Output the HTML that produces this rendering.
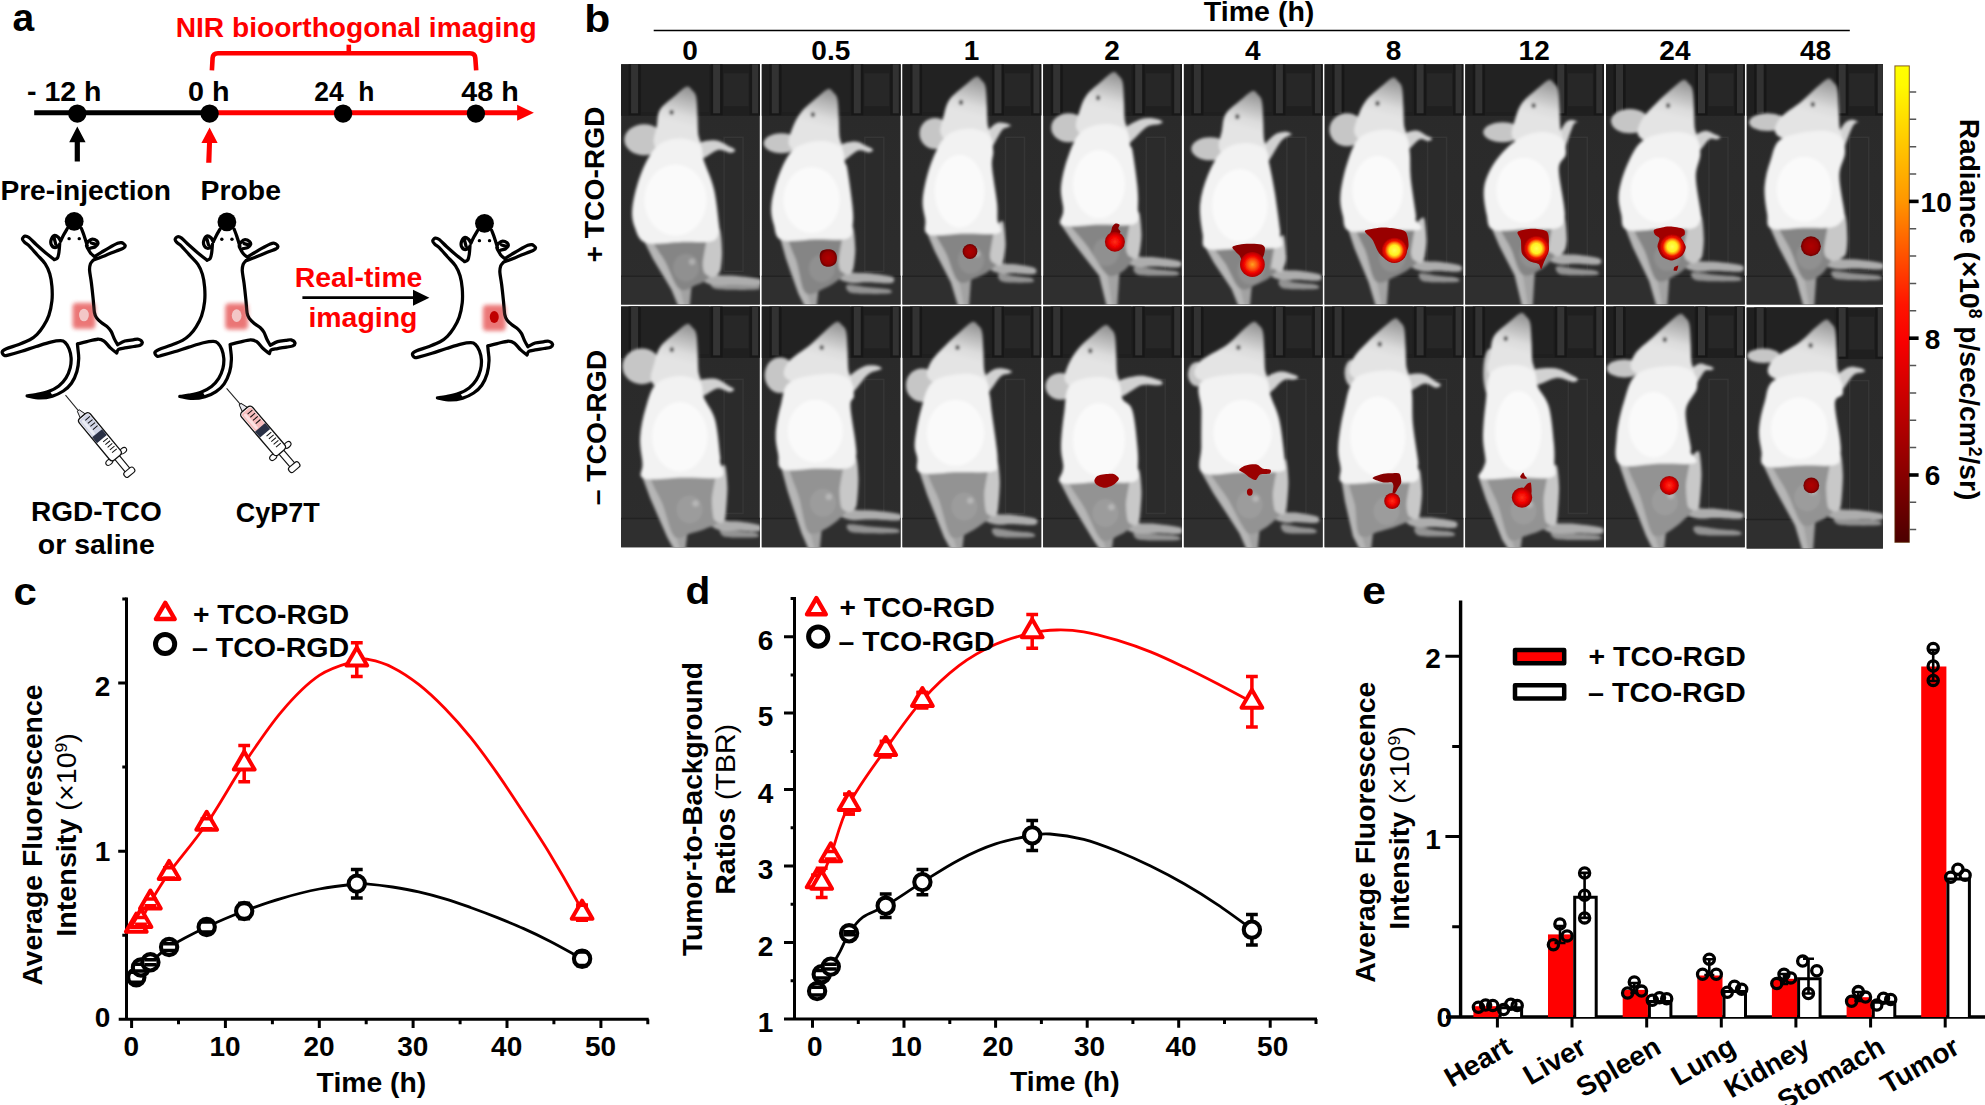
<!DOCTYPE html>
<html lang="en"><head><meta charset="utf-8"><title>Figure</title>
<style>
html,body{margin:0;padding:0;background:#fff;}
body{width:1985px;height:1105px;overflow:hidden;}
svg{display:block;font-family:"Liberation Sans",Arial,Helvetica,sans-serif;}
</style></head><body>
<svg width="1985" height="1105" viewBox="0 0 1985 1105">
<defs>
<filter id="pblur" x="-30%" y="-30%" width="160%" height="160%"><feGaussianBlur stdDeviation="11"/></filter>
<g id="mouse"><path d="M372.0,130.0 C368.7,135.8 358.2,153.3 352.0,165.0 C345.8,176.7 337.8,194.2 335.0,200.0 M335.0,200.0 C332.8,196.3 327.8,183.3 322.0,178.0 C316.2,172.7 306.7,165.2 300.0,168.0 C293.3,170.8 284.5,186.0 282.0,195.0 C279.5,204.0 281.2,215.2 285.0,222.0 C288.8,228.8 298.3,235.7 305.0,236.0 C311.7,236.3 320.8,227.5 325.0,224.0 C329.2,220.5 329.2,216.5 330.0,215.0 M330.0,215.0 C329.3,222.5 328.0,247.2 326.0,260.0 C324.0,272.8 322.3,285.0 318.0,292.0 C313.7,299.0 303.0,300.3 300.0,302.0 M300.0,302.0 C291.7,295.3 266.7,276.0 250.0,262.0 C233.3,248.0 215.0,231.7 200.0,218.0 C185.0,204.3 170.3,187.7 160.0,180.0 C149.7,172.3 144.0,170.7 138.0,172.0 C132.0,173.3 124.5,182.5 124.0,188.0 C123.5,193.5 129.0,198.8 135.0,205.0 C141.0,211.2 148.3,213.3 160.0,225.0 C171.7,236.7 190.0,258.3 205.0,275.0 C220.0,291.7 238.3,307.5 250.0,325.0 C261.7,342.5 268.8,359.2 275.0,380.0 C281.2,400.8 285.0,425.0 287.0,450.0 C289.0,475.0 289.8,503.3 287.0,530.0 C284.2,556.7 277.8,586.7 270.0,610.0 C262.2,633.3 250.8,652.5 240.0,670.0 C229.2,687.5 217.5,702.5 205.0,715.0 C192.5,727.5 182.5,735.5 165.0,745.0 C147.5,754.5 121.7,763.7 100.0,772.0 C78.3,780.3 49.7,788.3 35.0,795.0 C20.3,801.7 13.7,805.8 12.0,812.0 C10.3,818.2 18.7,829.3 25.0,832.0 C31.3,834.7 34.2,832.0 50.0,828.0 C65.8,824.0 95.0,815.7 120.0,808.0 C145.0,800.3 173.3,790.3 200.0,782.0 C226.7,773.7 257.5,763.3 280.0,758.0 C302.5,752.7 321.7,749.7 335.0,750.0 C348.3,750.3 352.2,752.5 360.0,760.0 C367.8,767.5 376.5,780.8 382.0,795.0 C387.5,809.2 392.0,827.5 393.0,845.0 C394.0,862.5 392.7,881.7 388.0,900.0 C383.3,918.3 375.5,938.3 365.0,955.0 C354.5,971.7 340.8,987.5 325.0,1000.0 C309.2,1012.5 290.8,1022.0 270.0,1030.0 C249.2,1038.0 220.0,1043.8 200.0,1048.0 C180.0,1052.2 158.3,1053.8 150.0,1055.0 M150.0,1055.0 C161.7,1056.8 196.7,1065.8 220.0,1066.0 C243.3,1066.2 268.3,1062.3 290.0,1056.0 C311.7,1049.7 332.5,1039.8 350.0,1028.0 C367.5,1016.2 382.5,1003.0 395.0,985.0 C407.5,967.0 418.3,942.5 425.0,920.0 C431.7,897.5 434.2,871.7 435.0,850.0 C435.8,828.3 431.2,803.7 430.0,790.0 C428.8,776.3 428.3,771.7 428.0,768.0 M428.0,768.0 C436.7,765.8 461.3,759.3 480.0,755.0 C498.7,750.7 524.2,742.5 540.0,742.0 C555.8,741.5 563.3,744.0 575.0,752.0 C586.7,760.0 598.3,779.0 610.0,790.0 C621.7,801.0 639.2,813.3 645.0,818.0 M645.0,818.0 C646.7,814.7 647.5,802.7 655.0,798.0 C662.5,793.3 675.8,792.7 690.0,790.0 C704.2,787.3 725.8,784.5 740.0,782.0 C754.2,779.5 767.3,779.0 775.0,775.0 C782.7,771.0 787.7,763.5 786.0,758.0 C784.3,752.5 773.5,744.2 765.0,742.0 C756.5,739.8 747.5,743.3 735.0,745.0 C722.5,746.7 704.2,747.5 690.0,752.0 C675.8,756.5 656.7,768.7 650.0,772.0 M650.0,772.0 C647.0,766.7 637.8,752.0 632.0,740.0 C626.2,728.0 621.2,710.8 615.0,700.0 C608.8,689.2 604.2,683.3 595.0,675.0 C585.8,666.7 570.0,658.3 560.0,650.0 C550.0,641.7 541.3,634.2 535.0,625.0 C528.7,615.8 525.3,612.5 522.0,595.0 C518.7,577.5 517.8,547.5 515.0,520.0 C512.2,492.5 508.3,456.7 505.0,430.0 C501.7,403.3 495.8,377.5 495.0,360.0 C494.2,342.5 496.7,334.2 500.0,325.0 C503.3,315.8 512.5,308.3 515.0,305.0 M515.0,305.0 C525.8,300.8 559.2,288.3 580.0,280.0 C600.8,271.7 623.3,261.7 640.0,255.0 C656.7,248.3 671.3,245.0 680.0,240.0 C688.7,235.0 693.3,230.3 692.0,225.0 C690.7,219.7 679.0,210.2 672.0,208.0 C665.0,205.8 662.0,207.0 650.0,212.0 C638.0,217.0 615.0,229.7 600.0,238.0 C585.0,246.3 573.0,254.2 560.0,262.0 C547.0,269.8 528.3,281.2 522.0,285.0 M522.0,285.0 C518.3,281.7 506.2,272.5 500.0,265.0 C493.8,257.5 487.5,244.2 485.0,240.0 M485.0,240.0 C483.8,237.0 477.2,228.7 478.0,222.0 C478.8,215.3 484.7,205.7 490.0,200.0 C495.3,194.3 502.5,188.3 510.0,188.0 C517.5,187.7 529.8,193.5 535.0,198.0 C540.2,202.5 542.7,209.3 541.0,215.0 C539.3,220.7 531.8,228.2 525.0,232.0 C518.2,235.8 504.2,237.0 500.0,238.0 M482.0,225.0 C479.2,215.8 470.3,185.8 465.0,170.0 C459.7,154.2 452.5,136.7 450.0,130.0 M300,185 L308,216 M505,210 L526,216" fill="none" stroke="#000" stroke-width="18" stroke-linecap="round" stroke-linejoin="round"/><path d="M150,1055 C190,1046 240,1040 275,1028 L292,1056 C250,1066 200,1066 150,1055Z" fill="#000"/><circle cx="410" cy="90" r="52" fill="#000"/><circle cx="382" cy="186" r="9.5" fill="#000"/><circle cx="438" cy="186" r="9.5" fill="#000"/></g>
<linearGradient id="cbar" x1="0" y1="0" x2="0" y2="1"><stop offset="0" stop-color="#ffff00"/><stop offset="0.04" stop-color="#fffa00"/><stop offset="0.28" stop-color="#ff9800"/><stop offset="0.5" stop-color="#ff1500"/><stop offset="0.58" stop-color="#f80000"/><stop offset="0.8" stop-color="#a00000"/><stop offset="1" stop-color="#4c0000"/></linearGradient>
<filter id="mblur" x="-5%" y="-5%" width="110%" height="110%"><feGaussianBlur stdDeviation="1.7"/></filter>
<filter id="hblur" x="-20%" y="-20%" width="140%" height="140%"><feGaussianBlur stdDeviation="0.7"/></filter>
<linearGradient id="bgv" x1="0" y1="0" x2="0" y2="1"><stop offset="0" stop-color="#262626"/><stop offset="0.2" stop-color="#2a2a2a"/><stop offset="1" stop-color="#2d2d2d"/></linearGradient>
<g id="pbg"><rect x="-2" y="-2" width="143" height="246" fill="url(#bgv)"/><rect x="-2" y="-2" width="143" height="53.5" fill="#1f1f1f"/><rect x="20" y="-2" width="68" height="50" fill="#222222"/><rect x="7.5" y="-2" width="12" height="53" fill="#171717"/><rect x="10" y="-2" width="7" height="51" fill="#323232"/><rect x="89.5" y="-2" width="12" height="53" fill="#171717"/><rect x="92" y="-2" width="7" height="51" fill="#343434"/><rect x="128.5" y="-2" width="11" height="53" fill="#181818"/><rect x="131" y="-2" width="6" height="51" fill="#323232"/><rect x="102.5" y="9" width="25" height="33" fill="#272727"/><rect x="103" y="73" width="19" height="134" fill="#2b2b2b" stroke="#363636" stroke-width="1.5"/><rect x="-2" y="212" width="143" height="32" fill="#2f2f2f"/><line x1="-2" y1="212" x2="141" y2="212" stroke="#222" stroke-width="1.5"/></g>
<clipPath id="cl00"><rect x="0" y="0" width="138.7" height="240.2"/></clipPath>
<linearGradient id="hg00" gradientUnits="userSpaceOnUse" x1="67.7" y1="22.3" x2="57.7" y2="60.3"><stop offset="0" stop-color="#8e8e8e"/><stop offset="0.35" stop-color="#b4b4b4"/><stop offset="0.75" stop-color="#dcdcdc"/><stop offset="1" stop-color="#e4e4e4"/></linearGradient>
<clipPath id="cl01"><rect x="0" y="0" width="138.7" height="240.2"/></clipPath>
<linearGradient id="hg01" gradientUnits="userSpaceOnUse" x1="68.3" y1="24.6" x2="58.3" y2="62.6"><stop offset="0" stop-color="#8e8e8e"/><stop offset="0.35" stop-color="#b4b4b4"/><stop offset="0.75" stop-color="#dcdcdc"/><stop offset="1" stop-color="#e4e4e4"/></linearGradient>
<clipPath id="cl02"><rect x="0" y="0" width="138.7" height="240.2"/></clipPath>
<linearGradient id="hg02" gradientUnits="userSpaceOnUse" x1="75.7" y1="12.4" x2="65.7" y2="50.4"><stop offset="0" stop-color="#8e8e8e"/><stop offset="0.35" stop-color="#b4b4b4"/><stop offset="0.75" stop-color="#dcdcdc"/><stop offset="1" stop-color="#e4e4e4"/></linearGradient>
<clipPath id="cl03"><rect x="0" y="0" width="138.7" height="240.2"/></clipPath>
<linearGradient id="hg03" gradientUnits="userSpaceOnUse" x1="72.1" y1="7.8" x2="62.1" y2="45.8"><stop offset="0" stop-color="#8e8e8e"/><stop offset="0.35" stop-color="#b4b4b4"/><stop offset="0.75" stop-color="#dcdcdc"/><stop offset="1" stop-color="#e4e4e4"/></linearGradient>
<clipPath id="cl04"><rect x="0" y="0" width="138.7" height="240.2"/></clipPath>
<linearGradient id="hg04" gradientUnits="userSpaceOnUse" x1="70.6" y1="26.7" x2="60.6" y2="64.7"><stop offset="0" stop-color="#8e8e8e"/><stop offset="0.35" stop-color="#b4b4b4"/><stop offset="0.75" stop-color="#dcdcdc"/><stop offset="1" stop-color="#e4e4e4"/></linearGradient>
<clipPath id="cl05"><rect x="0" y="0" width="138.7" height="240.2"/></clipPath>
<linearGradient id="hg05" gradientUnits="userSpaceOnUse" x1="70.1" y1="13.4" x2="60.1" y2="51.4"><stop offset="0" stop-color="#8e8e8e"/><stop offset="0.35" stop-color="#b4b4b4"/><stop offset="0.75" stop-color="#dcdcdc"/><stop offset="1" stop-color="#e4e4e4"/></linearGradient>
<clipPath id="cl06"><rect x="0" y="0" width="138.7" height="240.2"/></clipPath>
<linearGradient id="hg06" gradientUnits="userSpaceOnUse" x1="85.5" y1="15.6" x2="75.5" y2="53.6"><stop offset="0" stop-color="#8e8e8e"/><stop offset="0.35" stop-color="#b4b4b4"/><stop offset="0.75" stop-color="#dcdcdc"/><stop offset="1" stop-color="#e4e4e4"/></linearGradient>
<clipPath id="cl07"><rect x="0" y="0" width="138.7" height="240.2"/></clipPath>
<linearGradient id="hg07" gradientUnits="userSpaceOnUse" x1="79.3" y1="15.6" x2="69.3" y2="53.6"><stop offset="0" stop-color="#8e8e8e"/><stop offset="0.35" stop-color="#b4b4b4"/><stop offset="0.75" stop-color="#dcdcdc"/><stop offset="1" stop-color="#e4e4e4"/></linearGradient>
<clipPath id="cl08"><rect x="0" y="0" width="136.2" height="240.2"/></clipPath>
<linearGradient id="hg08" gradientUnits="userSpaceOnUse" x1="83.3" y1="14.4" x2="73.3" y2="52.4"><stop offset="0" stop-color="#8e8e8e"/><stop offset="0.35" stop-color="#b4b4b4"/><stop offset="0.75" stop-color="#dcdcdc"/><stop offset="1" stop-color="#e4e4e4"/></linearGradient>
<clipPath id="cl10"><rect x="0" y="0" width="138.7" height="240.8"/></clipPath>
<linearGradient id="hg10" gradientUnits="userSpaceOnUse" x1="67.9" y1="17.6" x2="57.9" y2="55.6"><stop offset="0" stop-color="#8e8e8e"/><stop offset="0.35" stop-color="#b4b4b4"/><stop offset="0.75" stop-color="#dcdcdc"/><stop offset="1" stop-color="#e4e4e4"/></linearGradient>
<clipPath id="cl11"><rect x="0" y="0" width="138.7" height="240.8"/></clipPath>
<linearGradient id="hg11" gradientUnits="userSpaceOnUse" x1="77.1" y1="15.4" x2="67.1" y2="53.4"><stop offset="0" stop-color="#8e8e8e"/><stop offset="0.35" stop-color="#b4b4b4"/><stop offset="0.75" stop-color="#dcdcdc"/><stop offset="1" stop-color="#e4e4e4"/></linearGradient>
<clipPath id="cl12"><rect x="0" y="0" width="138.7" height="240.8"/></clipPath>
<linearGradient id="hg12" gradientUnits="userSpaceOnUse" x1="72.2" y1="15.4" x2="62.2" y2="53.4"><stop offset="0" stop-color="#8e8e8e"/><stop offset="0.35" stop-color="#b4b4b4"/><stop offset="0.75" stop-color="#dcdcdc"/><stop offset="1" stop-color="#e4e4e4"/></linearGradient>
<clipPath id="cl13"><rect x="0" y="0" width="138.7" height="240.8"/></clipPath>
<linearGradient id="hg13" gradientUnits="userSpaceOnUse" x1="64.3" y1="18.7" x2="54.3" y2="56.7"><stop offset="0" stop-color="#8e8e8e"/><stop offset="0.35" stop-color="#b4b4b4"/><stop offset="0.75" stop-color="#dcdcdc"/><stop offset="1" stop-color="#e4e4e4"/></linearGradient>
<clipPath id="cl14"><rect x="0" y="0" width="138.7" height="240.8"/></clipPath>
<linearGradient id="hg14" gradientUnits="userSpaceOnUse" x1="71.7" y1="15.4" x2="61.7" y2="53.4"><stop offset="0" stop-color="#8e8e8e"/><stop offset="0.35" stop-color="#b4b4b4"/><stop offset="0.75" stop-color="#dcdcdc"/><stop offset="1" stop-color="#e4e4e4"/></linearGradient>
<clipPath id="cl15"><rect x="0" y="0" width="138.7" height="240.8"/></clipPath>
<linearGradient id="hg15" gradientUnits="userSpaceOnUse" x1="72.3" y1="12.1" x2="62.3" y2="50.1"><stop offset="0" stop-color="#8e8e8e"/><stop offset="0.35" stop-color="#b4b4b4"/><stop offset="0.75" stop-color="#dcdcdc"/><stop offset="1" stop-color="#e4e4e4"/></linearGradient>
<clipPath id="cl16"><rect x="0" y="0" width="138.7" height="240.8"/></clipPath>
<linearGradient id="hg16" gradientUnits="userSpaceOnUse" x1="57.6" y1="6.5" x2="47.6" y2="44.5"><stop offset="0" stop-color="#8e8e8e"/><stop offset="0.35" stop-color="#b4b4b4"/><stop offset="0.75" stop-color="#dcdcdc"/><stop offset="1" stop-color="#e4e4e4"/></linearGradient>
<clipPath id="cl17"><rect x="0" y="0" width="138.7" height="240.8"/></clipPath>
<linearGradient id="hg17" gradientUnits="userSpaceOnUse" x1="76.0" y1="7.6" x2="66.0" y2="45.6"><stop offset="0" stop-color="#8e8e8e"/><stop offset="0.35" stop-color="#b4b4b4"/><stop offset="0.75" stop-color="#dcdcdc"/><stop offset="1" stop-color="#e4e4e4"/></linearGradient>
<clipPath id="cl18"><rect x="0" y="0" width="136.2" height="240.8"/></clipPath>
<linearGradient id="hg18" gradientUnits="userSpaceOnUse" x1="81.1" y1="12.1" x2="71.1" y2="50.1"><stop offset="0" stop-color="#8e8e8e"/><stop offset="0.35" stop-color="#b4b4b4"/><stop offset="0.75" stop-color="#dcdcdc"/><stop offset="1" stop-color="#e4e4e4"/></linearGradient>
<radialGradient id="hDark"><stop offset="0" stop-color="#b00000"/><stop offset="0.7" stop-color="#9a0000"/><stop offset="1" stop-color="#6e0000"/></radialGradient>
<radialGradient id="hRed"><stop offset="0" stop-color="#ff3018"/><stop offset="0.55" stop-color="#f00000"/><stop offset="1" stop-color="#a00000"/></radialGradient>
<radialGradient id="hOr"><stop offset="0" stop-color="#ffa020"/><stop offset="0.35" stop-color="#ff5a10"/><stop offset="0.7" stop-color="#f00000"/><stop offset="1" stop-color="#b00000"/></radialGradient>
<radialGradient id="hYel"><stop offset="0" stop-color="#ffff55"/><stop offset="0.4" stop-color="#fff020"/><stop offset="0.56" stop-color="#ff9a10"/><stop offset="0.76" stop-color="#f01000"/><stop offset="1" stop-color="#b00000"/></radialGradient>
</defs>
<rect width="1985" height="1105" fill="#fff"/>
<text x="12.6" y="31.4" font-size="38" font-weight="bold" fill="#000" textLength="21.7" lengthAdjust="spacingAndGlyphs">a</text>
<text x="175.7" y="37.0" font-size="28.2" font-weight="bold" fill="#ff0000" textLength="361.0" lengthAdjust="spacingAndGlyphs">NIR bioorthogonal imaging</text>
<path d="M211.9,70.3 L212.6,58 Q213,53.2 218,53.2 L470,53.2 Q475,53.2 475.3,58 L476.2,70.3" fill="none" stroke="#ff0000" stroke-width="4.6"/>
<path d="M348.8,44.7 L348.8,53.2" fill="none" stroke="#ff0000" stroke-width="4.6"/>
<line x1="34.2" y1="112.7" x2="209.6" y2="112.7" stroke="#000" stroke-width="5"/>
<line x1="209.6" y1="112.7" x2="519" y2="112.7" stroke="#ff0000" stroke-width="5"/>
<polygon points="517.1,104.7 533.9,112.7 517.1,120.7" fill="#ff0000"/>
<circle cx="77.3" cy="113.6" r="9.2" fill="#000"/>
<circle cx="209.6" cy="113.6" r="9.2" fill="#000"/>
<circle cx="343.1" cy="113.6" r="9.2" fill="#000"/>
<circle cx="475.9" cy="113.6" r="9.2" fill="#000"/>
<text x="27.0" y="101.0" font-size="28.2" font-weight="bold" fill="#000" textLength="74.5" lengthAdjust="spacingAndGlyphs">- 12 h</text>
<text x="188.0" y="101.0" font-size="28.2" font-weight="bold" fill="#000" textLength="41.5" lengthAdjust="spacingAndGlyphs">0 h</text>
<text x="314.2" y="101.0" font-size="28.2" font-weight="bold" fill="#000" textLength="60.3" lengthAdjust="spacingAndGlyphs" xml:space="preserve">24  h</text>
<text x="461.3" y="101.0" font-size="28.2" font-weight="bold" fill="#000" textLength="57.4" lengthAdjust="spacingAndGlyphs">48 h</text>
<path d="M77.3,126.5 L85.6,142.3 L79.9,142.3 L79.9,161.5 L74.7,161.5 L74.7,142.3 L69.2,142.3 Z" fill="#000"/>
<path d="M209.6,127.5 L217.6,143 L212,143 L211.4,162.8 L206.2,162.8 L207,143 L201.4,143 Z" fill="#ff0000"/>
<text x="0.4" y="199.7" font-size="28.2" font-weight="bold" fill="#000" textLength="170.5" lengthAdjust="spacingAndGlyphs">Pre-injection</text>
<text x="200.6" y="199.7" font-size="28.2" font-weight="bold" fill="#000" textLength="80.3" lengthAdjust="spacingAndGlyphs">Probe</text>
<text x="294.7" y="286.5" font-size="28.2" font-weight="bold" fill="#ff0000" textLength="127.7" lengthAdjust="spacingAndGlyphs">Real-time</text>
<text x="308.4" y="326.9" font-size="28.2" font-weight="bold" fill="#ff0000" textLength="109.0" lengthAdjust="spacingAndGlyphs">imaging</text>
<line x1="302.4" y1="297.7" x2="415" y2="297.7" stroke="#000" stroke-width="2.7"/>
<polygon points="413,289.7 429.4,297.7 413,305.7" fill="#000"/>
<text x="31.0" y="520.6" font-size="28.2" font-weight="bold" fill="#000" textLength="130.7" lengthAdjust="spacingAndGlyphs">RGD-TCO</text>
<text x="37.8" y="554.1" font-size="28.2" font-weight="bold" fill="#000" textLength="117.0" lengthAdjust="spacingAndGlyphs">or saline</text>
<text x="235.8" y="521.6" font-size="28.2" font-weight="bold" fill="#000" textLength="84.0" lengthAdjust="spacingAndGlyphs">CyP7T</text>
<g transform="translate(0,205) scale(0.18093)"><rect x="403" y="543" width="122" height="140" rx="16" fill="#e96c6c" opacity="0.95" filter="url(#pblur)"/><use href="#mouse"/><rect x="408" y="548" width="112" height="130" rx="16" fill="#ec7c7c" opacity="0.35" filter="url(#pblur)"/><ellipse cx="464" cy="608" rx="27" ry="35" fill="#f3c6c6"/></g>
<g transform="translate(152.7,205.6) scale(0.18093)"><rect x="403" y="543" width="122" height="140" rx="16" fill="#e96c6c" opacity="0.95" filter="url(#pblur)"/><use href="#mouse"/><rect x="408" y="548" width="112" height="130" rx="16" fill="#ec7c7c" opacity="0.35" filter="url(#pblur)"/><ellipse cx="464" cy="608" rx="27" ry="35" fill="#f3c6c6"/></g>
<g transform="translate(410.3,207.0) scale(0.18093)"><rect x="403" y="543" width="122" height="140" rx="16" fill="#e96c6c" opacity="0.95" filter="url(#pblur)"/><use href="#mouse"/><rect x="408" y="548" width="112" height="130" rx="16" fill="#ec7c7c" opacity="0.35" filter="url(#pblur)"/><ellipse cx="464" cy="608" rx="25" ry="33" fill="#c00000"/></g>
<g transform="translate(65.5,395.1) rotate(50.4) scale(1.001)" stroke-linejoin="round"><line x1="0" y1="0" x2="23" y2="0" stroke="#222" stroke-width="1"/><path d="M20,-1.2 L27,-3.2 L27,3.2 L20,1.2Z" fill="#e8e8ee" stroke="#111" stroke-width="0.9"/><rect x="80" y="-3" width="19" height="6" fill="#fff" stroke="#111" stroke-width="1.1"/><rect x="97" y="-6" width="6" height="12" rx="2.5" fill="#fff" stroke="#111" stroke-width="1.1"/><ellipse cx="79.5" cy="-9" rx="2.6" ry="3.8" fill="#fff" stroke="#111" stroke-width="1.1"/><ellipse cx="79.5" cy="9" rx="2.6" ry="3.8" fill="#fff" stroke="#111" stroke-width="1.1"/><rect x="27" y="-7.1" width="54" height="14.2" rx="3.4" fill="#fff" stroke="#111" stroke-width="1.3"/><rect x="28.2" y="-6" width="23" height="12" rx="2.8" fill="#d0d4e6"/><rect x="30" y="1.5" width="19" height="3" rx="1.5" fill="#fff" opacity="0.55"/><rect x="49.5" y="-6.4" width="7.5" height="12.8" fill="#2a3146"/><line x1="32" y1="-5.2" x2="32" y2="0.8" stroke="#111" stroke-width="1"/><line x1="36" y1="-5.2" x2="36" y2="0.8" stroke="#111" stroke-width="1"/><line x1="40" y1="-5.2" x2="40" y2="0.8" stroke="#111" stroke-width="1"/><line x1="44" y1="-5.2" x2="44" y2="0.8" stroke="#111" stroke-width="1"/><line x1="60" y1="-5.2" x2="60" y2="0.8" stroke="#111" stroke-width="1"/><line x1="63.5" y1="-5.2" x2="63.5" y2="0.8" stroke="#111" stroke-width="1"/><line x1="67" y1="-5.2" x2="67" y2="0.8" stroke="#111" stroke-width="1"/><line x1="70.5" y1="-5.2" x2="70.5" y2="0.8" stroke="#111" stroke-width="1"/><line x1="74" y1="-5.2" x2="74" y2="0.8" stroke="#111" stroke-width="1"/></g>
<g transform="translate(226.6,388.3) rotate(49.4) scale(1.039)" stroke-linejoin="round"><line x1="0" y1="0" x2="23" y2="0" stroke="#222" stroke-width="1"/><path d="M20,-1.2 L27,-3.2 L27,3.2 L20,1.2Z" fill="#e8e8ee" stroke="#111" stroke-width="0.9"/><rect x="80" y="-3" width="19" height="6" fill="#fff" stroke="#111" stroke-width="1.1"/><rect x="97" y="-6" width="6" height="12" rx="2.5" fill="#fff" stroke="#111" stroke-width="1.1"/><ellipse cx="79.5" cy="-9" rx="2.6" ry="3.8" fill="#fff" stroke="#111" stroke-width="1.1"/><ellipse cx="79.5" cy="9" rx="2.6" ry="3.8" fill="#fff" stroke="#111" stroke-width="1.1"/><rect x="27" y="-7.1" width="54" height="14.2" rx="3.4" fill="#fff" stroke="#111" stroke-width="1.3"/><rect x="28.2" y="-6" width="23" height="12" rx="2.8" fill="#f7bcbc"/><rect x="30" y="1.5" width="19" height="3" rx="1.5" fill="#fff" opacity="0.55"/><rect x="49.5" y="-6.4" width="7.5" height="12.8" fill="#2a3146"/><line x1="32" y1="-5.2" x2="32" y2="0.8" stroke="#111" stroke-width="1"/><line x1="36" y1="-5.2" x2="36" y2="0.8" stroke="#111" stroke-width="1"/><line x1="40" y1="-5.2" x2="40" y2="0.8" stroke="#111" stroke-width="1"/><line x1="44" y1="-5.2" x2="44" y2="0.8" stroke="#111" stroke-width="1"/><line x1="60" y1="-5.2" x2="60" y2="0.8" stroke="#111" stroke-width="1"/><line x1="63.5" y1="-5.2" x2="63.5" y2="0.8" stroke="#111" stroke-width="1"/><line x1="67" y1="-5.2" x2="67" y2="0.8" stroke="#111" stroke-width="1"/><line x1="70.5" y1="-5.2" x2="70.5" y2="0.8" stroke="#111" stroke-width="1"/><line x1="74" y1="-5.2" x2="74" y2="0.8" stroke="#111" stroke-width="1"/></g>
<text x="584.3" y="31.7" font-size="38" font-weight="bold" fill="#000" textLength="26.0" lengthAdjust="spacingAndGlyphs">b</text>
<text x="1203.8" y="21.0" font-size="28" font-weight="bold" fill="#000" textLength="110.6" lengthAdjust="spacingAndGlyphs">Time (h)</text>
<line x1="653.7" y1="30.5" x2="1849.8" y2="30.5" stroke="#000" stroke-width="1.4"/>
<text x="690.1" y="59.9" font-size="28" font-weight="bold" fill="#000" text-anchor="middle">0</text>
<text x="830.8" y="59.9" font-size="28" font-weight="bold" fill="#000" text-anchor="middle">0.5</text>
<text x="971.5" y="59.9" font-size="28" font-weight="bold" fill="#000" text-anchor="middle">1</text>
<text x="1112.1" y="59.9" font-size="28" font-weight="bold" fill="#000" text-anchor="middle">2</text>
<text x="1252.8" y="59.9" font-size="28" font-weight="bold" fill="#000" text-anchor="middle">4</text>
<text x="1393.5" y="59.9" font-size="28" font-weight="bold" fill="#000" text-anchor="middle">8</text>
<text x="1534.2" y="59.9" font-size="28" font-weight="bold" fill="#000" text-anchor="middle">12</text>
<text x="1674.9" y="59.9" font-size="28" font-weight="bold" fill="#000" text-anchor="middle">24</text>
<text x="1815.6" y="59.9" font-size="28" font-weight="bold" fill="#000" text-anchor="middle">48</text>
<text x="604.4" y="262.5" font-size="28" font-weight="bold" fill="#000" textLength="156.0" lengthAdjust="spacingAndGlyphs" transform="rotate(-90 604.4 262.5)">+ TCO-RGD</text>
<text x="606.5" y="505.3" font-size="28" font-weight="bold" fill="#000" textLength="155.5" lengthAdjust="spacingAndGlyphs" transform="rotate(-90 606.5 505.3)">– TCO-RGD</text>
<rect x="1894.9" y="65.9" width="14.4" height="476.4" fill="url(#cbar)" stroke="#5a2a00" stroke-opacity="0.75" stroke-width="1"/>
<path d="M1909.6,92.0 L1916.2,92.0 M1909.6,119.3 L1916.2,119.3 M1909.6,146.7 L1916.2,146.7 M1909.6,174.1 L1916.2,174.1 M1909.6,228.8 L1916.2,228.8 M1909.6,256.1 L1916.2,256.1 M1909.6,283.5 L1916.2,283.5 M1909.6,310.8 L1916.2,310.8 M1909.6,365.5 L1916.2,365.5 M1909.6,392.9 L1916.2,392.9 M1909.6,420.2 L1916.2,420.2 M1909.6,447.6 L1916.2,447.6 M1909.6,502.2 L1916.2,502.2 M1909.6,529.6 L1916.2,529.6 " stroke="#555" stroke-width="1.5" fill="none"/>
<line x1="1909" y1="201.4" x2="1918.6" y2="201.4" stroke="#000" stroke-width="3.6"/>
<text x="1920.6" y="211.7" font-size="28" font-weight="bold" fill="#000">10</text>
<line x1="1909" y1="338.2" x2="1918.6" y2="338.2" stroke="#000" stroke-width="3.6"/>
<text x="1924.8" y="348.5" font-size="28" font-weight="bold" fill="#000">8</text>
<line x1="1909" y1="475.0" x2="1918.6" y2="475.0" stroke="#000" stroke-width="3.6"/>
<text x="1924.8" y="485.3" font-size="28" font-weight="bold" fill="#000">6</text>
<text x="1959.6" y="118.7" font-size="28" font-weight="bold" fill="#000" textLength="381.6" lengthAdjust="spacingAndGlyphs" transform="rotate(90 1959.6 118.7)">Radiance (×10<tspan font-size="17.5" dy="-9.5">8</tspan><tspan dy="9.5"> p/sec/cm</tspan><tspan font-size="17.5" dy="-9.5">2</tspan><tspan dy="9.5">/sr)</tspan></text>
<g transform="translate(621.1,64.3)" clip-path="url(#cl00)"><use href="#pbg"/><g filter="url(#mblur)"><path d="M56.9,215.5 L70.9,217.5 L68.2,246.0 L58.8,246.0Z" fill="#a2a2a2"/><path d="M90.7,216.5 C94.2,215.7 106.3,218.2 113.8,219.0 C121.4,219.8 132.1,220.0 136.0,221.0 C139.9,222.0 141.2,224.2 137.0,225.0 C132.8,225.8 118.2,225.7 110.8,225.5 C103.5,225.3 96.1,225.5 92.7,224.0 C89.3,222.5 87.2,217.3 90.7,216.5Z" fill="#939393"/><path d="M84.7,204.0 C86.9,203.1 89.8,209.2 94.7,210.5 C99.6,211.8 106.5,210.8 113.8,211.5 C121.2,212.2 134.6,213.5 139.0,215.0 C143.4,216.5 141.5,219.4 140.5,220.5 C139.5,221.6 137.8,221.5 133.0,221.5 C128.2,221.5 118.4,220.6 111.8,220.5 C105.3,220.4 98.7,221.8 93.7,221.0 C88.7,220.2 83.2,218.8 81.7,216.0 C80.2,213.2 82.5,204.9 84.7,204.0Z" fill="#adadad"/><path d="M13.8,161.4 L23.8,178.4 L31.9,194.6 L41.0,209.8 L50.4,225.5 L58.8,246.0 L64.4,246.0 L57.9,221.5 L49.5,205.8 L41.4,190.6 L33.3,175.4Z" fill="#b6b6b6"/><path d="M32.3,174.4 C34.7,170.3 50.1,173.6 59.0,173.6 C67.9,173.6 80.2,172.8 85.7,174.4 C91.2,176.0 90.4,180.2 91.7,183.4 C93.0,186.6 94.0,189.0 93.7,193.4 C93.4,197.8 91.6,205.9 89.7,210.0 C87.8,214.1 84.8,215.8 82.0,217.8 C79.3,219.7 76.5,220.1 73.4,221.5 C70.3,222.9 66.4,226.0 63.4,226.0 C60.4,226.0 58.5,226.1 55.4,221.5 C52.3,216.9 48.4,206.3 44.6,198.4 C40.7,190.6 29.9,178.5 32.3,174.4Z" fill="#858585"/><ellipse cx="65.0" cy="203.4" rx="13" ry="14" fill="#fff" opacity="0.09"/><circle cx="71.0" cy="197.4" r="3.2" fill="#fff" opacity="0.28"/><path d="M86.7,171.4 C88.3,169.7 96.8,163.5 98.5,165.4 C100.2,167.3 100.9,182.5 101.0,187.4 C101.1,192.3 100.1,204.0 99.0,207.0 C97.9,210.0 93.5,212.8 91.7,213.0 C89.9,213.2 84.9,210.6 83.7,209.0 C82.5,207.4 81.6,202.7 81.7,199.4 C81.8,196.1 84.1,183.7 84.7,180.4 C85.3,177.1 85.1,173.2 86.7,171.4Z" fill="#c8c8c8"/><ellipse cx="23.1" cy="75.5" rx="19.9" ry="15.5" fill="#c6c6c6"/><path d="M75.7,80.3 C78.2,77.3 89.1,75.8 94.7,76.1 C100.2,76.5 105.7,80.9 108.9,82.5 C112.1,84.1 114.0,85.0 114.1,86.0 C114.2,87.0 112.2,88.6 109.3,88.5 C106.4,88.4 101.7,84.7 96.8,85.6 C91.8,86.6 83.2,95.2 79.7,94.3 C76.2,93.4 73.2,83.3 75.7,80.3Z" fill="#d2d2d2"/><path d="M65.7,22.3 C68.5,21.5 69.7,24.4 71.2,26.1 C72.8,27.8 74.1,28.1 75.0,32.3 C75.9,36.5 76.1,45.1 76.4,51.3 C76.7,57.5 76.6,63.8 77.0,69.3 C77.4,74.8 81.9,80.5 79.0,84.3 C76.1,88.1 66.2,91.6 59.7,92.3 C53.2,93.0 44.2,90.6 39.7,88.3 C35.2,86.0 33.4,82.6 32.7,78.3 C32.0,74.0 34.7,67.8 35.7,62.3 C36.7,56.8 35.8,50.6 38.9,45.4 C42.0,40.2 50.0,34.8 54.5,30.9 C59.0,27.0 62.9,23.1 65.7,22.3Z" fill="url(#hg00)"/><path d="M35.7,82.3 C29.4,88.2 23.9,99.5 19.8,109.6 C15.8,119.7 12.3,134.0 11.3,143.0 C10.3,152.0 11.6,157.5 13.8,163.4 C16.1,169.3 17.3,176.0 24.8,178.4 C32.3,180.8 48.0,177.8 59.0,177.6 C70.0,177.3 84.2,178.6 90.7,176.9 C97.2,175.2 96.8,170.0 98.0,167.4 C99.2,164.8 98.8,168.4 98.0,161.4 C97.2,154.4 95.5,136.2 93.0,125.4 C90.5,114.6 85.2,103.8 82.7,96.3 C80.2,88.8 82.4,84.0 78.2,80.3 C74.0,76.6 64.8,74.0 57.7,74.3 C50.6,74.6 42.0,76.4 35.7,82.3Z" fill="#f2f2f2"/><ellipse cx="54.4" cy="135.8" rx="31.1" ry="35.5" fill="#fafafa"/><ellipse cx="50.5" cy="48.0" rx="2.2" ry="2.6" fill="#4a4a4a"/></g></g>
<g transform="translate(761.8,64.3)" clip-path="url(#cl01)"><use href="#pbg"/><g filter="url(#mblur)"><path d="M43.1,219.5 L57.1,221.5 L54.4,246.0 L45.0,246.0Z" fill="#a2a2a2"/><path d="M85.8,220.5 C89.0,219.7 100.0,222.2 106.8,223.0 C113.6,223.8 123.3,224.0 126.8,225.0 C130.3,226.0 131.6,228.2 127.8,229.0 C124.0,229.8 110.5,229.7 103.8,229.5 C97.1,229.3 90.8,229.5 87.8,228.0 C84.8,226.5 82.6,221.3 85.8,220.5Z" fill="#939393"/><path d="M79.8,201.4 C82.0,200.5 85.3,206.7 89.8,207.9 C94.3,209.2 100.1,208.2 106.8,208.9 C113.5,209.7 125.7,210.9 129.8,212.4 C133.9,213.9 132.3,216.8 131.3,217.9 C130.3,219.0 128.2,218.9 123.8,218.9 C119.4,218.9 110.6,218.0 104.8,217.9 C99.0,217.8 93.5,219.2 88.8,218.4 C84.1,217.7 78.3,216.2 76.8,213.4 C75.3,210.6 77.6,202.3 79.8,201.4Z" fill="#adadad"/><path d="M12.1,158.7 L18.9,175.7 L24.1,194.1 L30.2,211.5 L36.6,229.5 L45.0,246.0 L50.6,246.0 L44.1,225.5 L38.8,207.5 L33.6,190.1 L28.4,172.7Z" fill="#b6b6b6"/><path d="M27.4,171.7 C30.5,167.0 45.2,170.9 54.1,170.9 C63.0,170.9 75.3,170.1 80.8,171.7 C86.2,173.3 85.5,177.5 86.8,180.7 C88.1,183.9 89.1,186.2 88.8,190.7 C88.5,195.1 87.5,202.8 84.8,207.4 C82.1,212.0 76.9,215.4 72.7,218.4 C68.5,221.5 63.5,223.6 59.6,225.5 C55.8,227.4 52.6,230.0 49.6,230.0 C46.6,230.0 44.0,230.7 41.6,225.5 C39.2,220.3 37.6,208.1 35.2,199.1 C32.9,190.1 24.3,176.4 27.4,171.7Z" fill="#858585"/><ellipse cx="60.1" cy="204.1" rx="13" ry="14" fill="#fff" opacity="0.09"/><circle cx="66.1" cy="198.1" r="3.2" fill="#fff" opacity="0.28"/><path d="M81.8,168.7 C83.1,166.9 89.6,160.8 91.0,162.7 C92.4,164.6 93.4,179.8 93.5,184.7 C93.6,189.6 92.3,201.4 91.5,204.4 C90.7,207.4 88.3,210.2 86.8,210.4 C85.3,210.6 80.0,208.0 78.8,206.4 C77.6,204.8 76.7,200.0 76.8,196.7 C76.9,193.4 79.2,181.0 79.8,177.7 C80.4,174.4 80.5,170.4 81.8,168.7Z" fill="#c8c8c8"/><ellipse cx="19.6" cy="79.0" rx="17.7" ry="10.0" fill="#c6c6c6"/><path d="M76.3,82.6 C78.4,79.4 88.0,77.2 93.0,77.2 C97.9,77.1 102.8,80.9 105.8,82.3 C108.9,83.7 111.1,84.7 111.3,85.7 C111.5,86.7 109.3,88.0 106.8,88.1 C104.2,88.2 100.3,85.0 95.9,86.4 C91.5,87.8 83.6,97.2 80.3,96.6 C77.0,96.0 74.2,85.8 76.3,82.6Z" fill="#d2d2d2"/><path d="M66.3,24.6 C69.1,23.8 70.2,26.7 71.8,28.4 C73.3,30.1 74.7,30.4 75.6,34.6 C76.5,38.8 76.7,47.4 77.0,53.6 C77.3,59.8 77.2,66.1 77.6,71.6 C78.0,77.1 82.5,82.8 79.6,86.6 C76.7,90.4 66.8,93.9 60.3,94.6 C53.8,95.3 45.8,92.9 40.3,90.6 C34.8,88.3 29.0,84.9 27.3,80.6 C25.6,76.3 28.3,70.1 30.3,64.6 C32.3,59.1 35.4,52.9 39.5,47.7 C43.6,42.5 50.6,37.1 55.1,33.2 C59.6,29.4 63.5,25.4 66.3,24.6Z" fill="url(#hg01)"/><path d="M32.3,84.6 C25.5,90.1 21.3,100.4 17.5,109.7 C13.8,119.0 10.5,131.9 9.6,140.4 C8.7,148.9 10.4,154.8 12.1,160.7 C13.8,166.6 12.9,173.3 19.9,175.7 C26.9,178.1 43.1,175.1 54.1,174.9 C65.1,174.6 79.6,176.8 85.8,174.2 C92.0,171.6 90.2,165.2 91.0,159.6 C91.8,153.9 91.4,149.6 90.5,140.4 C89.6,131.2 86.7,111.4 85.5,104.4 C84.3,97.4 84.4,102.2 83.3,98.6 C82.2,95.0 83.0,86.3 78.8,82.6 C74.6,78.9 66.0,76.3 58.3,76.6 C50.5,76.9 39.1,79.1 32.3,84.6Z" fill="#f2f2f2"/><ellipse cx="49.8" cy="135.6" rx="28.2" ry="33.0" fill="#fafafa"/><ellipse cx="51.1" cy="50.3" rx="2.2" ry="2.6" fill="#4a4a4a"/></g></g>
<g transform="translate(902.5,64.3)" clip-path="url(#cl02)"><use href="#pbg"/><g filter="url(#mblur)"><path d="M54.9,208.3 L68.9,210.3 L66.2,246.0 L56.8,246.0Z" fill="#a2a2a2"/><path d="M96.5,209.3 C98.9,208.5 107.7,211.1 113.0,211.8 C118.4,212.6 125.8,212.8 128.6,213.8 C131.4,214.8 132.7,217.1 129.6,217.8 C126.5,218.6 115.2,218.5 110.0,218.3 C104.9,218.1 100.8,218.3 98.5,216.8 C96.2,215.3 94.1,210.1 96.5,209.3Z" fill="#939393"/><path d="M90.5,192.5 C92.7,191.6 96.7,197.8 100.5,199.0 C104.3,200.2 107.9,199.2 113.0,200.0 C118.2,200.8 128.3,202.0 131.6,203.5 C134.9,205.0 134.1,207.9 133.1,209.0 C132.1,210.1 129.3,210.0 125.6,210.0 C121.9,210.0 115.4,209.1 111.0,209.0 C106.7,208.9 103.4,210.2 99.5,209.5 C95.6,208.8 89.0,207.3 87.5,204.5 C86.0,201.7 88.3,193.4 90.5,192.5Z" fill="#adadad"/><path d="M22.8,153.1 L25.1,170.1 L32.1,186.7 L40.1,202.3 L48.4,218.3 L56.8,246.0 L62.4,246.0 L55.9,214.3 L48.7,198.3 L41.6,182.7 L34.6,167.1Z" fill="#b6b6b6"/><path d="M33.6,166.1 C36.6,161.9 52.9,165.3 62.5,165.3 C72.2,165.3 85.7,164.5 91.5,166.1 C97.3,167.7 96.2,171.9 97.5,175.1 C98.8,178.3 99.8,181.2 99.5,185.1 C99.2,189.0 98.1,194.6 95.5,198.5 C92.9,202.4 88.0,205.8 84.0,208.4 C79.9,211.0 75.2,212.6 71.4,214.3 C67.6,216.0 64.4,218.8 61.4,218.8 C58.4,218.8 56.3,219.0 53.4,214.3 C50.5,209.6 47.5,198.7 44.2,190.7 C41.0,182.7 30.6,170.3 33.6,166.1Z" fill="#858585"/><ellipse cx="68.5" cy="195.7" rx="13" ry="14" fill="#fff" opacity="0.09"/><circle cx="74.5" cy="189.7" r="3.2" fill="#fff" opacity="0.28"/><path d="M92.5,163.1 C93.7,161.3 99.3,155.2 100.5,157.1 C101.7,159.0 102.9,174.6 103.0,179.1 C103.1,183.6 101.6,192.9 101.0,195.5 C100.4,198.1 98.8,201.3 97.5,201.5 C96.2,201.7 90.7,198.7 89.5,197.5 C88.3,196.3 87.4,194.1 87.5,191.1 C87.6,188.1 89.9,175.4 90.5,172.1 C91.1,168.8 91.3,164.8 92.5,163.1Z" fill="#c8c8c8"/><ellipse cx="32.5" cy="69.2" rx="15.5" ry="15.6" fill="#c6c6c6"/><path d="M83.7,70.4 C84.6,66.3 90.0,61.5 93.0,59.5 C96.1,57.6 99.4,58.4 102.0,58.7 C104.5,59.0 108.0,60.6 108.5,61.3 C109.0,62.0 106.6,62.1 105.0,62.9 C103.5,63.8 102.0,62.8 99.1,66.4 C96.2,70.0 90.3,83.7 87.7,84.4 C85.1,85.1 82.8,74.5 83.7,70.4Z" fill="#d2d2d2"/><path d="M73.7,12.4 C76.5,11.6 77.7,14.5 79.2,16.2 C80.8,17.9 82.1,18.2 83.0,22.4 C83.9,26.6 84.1,35.2 84.4,41.4 C84.7,47.6 84.6,53.9 85.0,59.4 C85.4,64.9 89.9,70.6 87.0,74.4 C84.1,78.2 74.2,81.7 67.7,82.4 C61.2,83.1 52.7,80.7 47.7,78.4 C42.8,76.1 39.1,72.7 38.0,68.4 C36.9,64.1 39.5,57.9 41.0,52.4 C42.5,46.9 43.3,40.7 46.9,35.5 C50.5,30.3 58.0,24.9 62.5,21.0 C67.0,17.1 70.9,13.2 73.7,12.4Z" fill="url(#hg02)"/><path d="M43.0,72.4 C36.8,78.3 32.0,89.8 28.2,100.0 C24.5,110.2 21.2,124.5 20.3,133.7 C19.4,142.9 21.8,149.0 22.8,155.1 C23.8,161.2 19.5,167.7 26.1,170.1 C32.7,172.5 50.8,169.5 62.5,169.3 C74.3,169.0 91.1,170.9 96.5,168.6 C101.9,166.3 95.3,160.7 95.0,155.6 C94.7,150.6 95.4,147.1 94.5,138.2 C93.6,129.3 90.1,110.8 89.5,102.2 C88.9,93.6 91.2,91.7 90.7,86.4 C90.2,81.1 90.4,74.1 86.2,70.4 C82.0,66.7 72.9,64.1 65.7,64.4 C58.5,64.7 49.2,66.5 43.0,72.4Z" fill="#f2f2f2"/><ellipse cx="57.1" cy="126.8" rx="24.9" ry="36.3" fill="#fafafa"/><ellipse cx="58.5" cy="38.1" rx="2.2" ry="2.6" fill="#4a4a4a"/></g></g>
<g transform="translate(1043.2,64.3)" clip-path="url(#cl03)"><use href="#pbg"/><g filter="url(#mblur)"><path d="M62.5,201.4 L76.5,203.4 L73.8,246.0 L64.4,246.0Z" fill="#a2a2a2"/><path d="M91.8,202.4 C95.0,201.6 106.0,204.2 112.8,204.9 C119.6,205.7 129.3,205.9 132.8,206.9 C136.3,207.9 137.6,210.2 133.8,210.9 C130.0,211.7 116.5,211.6 109.8,211.4 C103.1,211.2 96.8,211.4 93.8,209.9 C90.8,208.4 88.6,203.2 91.8,202.4Z" fill="#939393"/><path d="M85.8,185.6 C88.0,184.7 91.3,190.8 95.8,192.1 C100.3,193.3 106.1,192.3 112.8,193.1 C119.5,193.8 131.7,195.1 135.8,196.6 C139.9,198.1 138.3,201.0 137.3,202.1 C136.3,203.2 134.2,203.1 129.8,203.1 C125.4,203.1 116.6,202.2 110.8,202.1 C105.0,202.0 99.5,203.3 94.8,202.6 C90.1,201.8 84.3,200.4 82.8,197.6 C81.3,194.8 83.6,186.5 85.8,185.6Z" fill="#adadad"/><path d="M20.3,144.0 L18.2,161.0 L30.0,178.3 L42.8,194.6 L56.0,211.4 L64.4,246.0 L70.0,246.0 L63.5,207.4 L51.3,190.6 L39.5,174.3 L27.7,158.0Z" fill="#b6b6b6"/><path d="M26.7,157.0 C28.7,152.6 46.7,156.2 56.8,156.2 C66.8,156.2 80.8,155.4 86.8,157.0 C92.8,158.6 91.5,162.8 92.8,166.0 C94.1,169.2 95.1,171.7 94.8,176.0 C94.5,180.3 92.4,187.3 90.8,191.6 C89.2,195.8 87.4,198.9 85.4,201.5 C83.4,204.1 81.7,205.7 79.0,207.4 C76.3,209.1 72.0,211.9 69.0,211.9 C66.0,211.9 65.1,212.3 61.0,207.4 C56.9,202.5 50.3,191.1 44.6,182.7 C38.9,174.3 24.7,161.4 26.7,157.0Z" fill="#858585"/><ellipse cx="62.8" cy="187.7" rx="13" ry="14" fill="#fff" opacity="0.09"/><circle cx="68.8" cy="181.7" r="3.2" fill="#fff" opacity="0.28"/><path d="M87.8,154.0 C89.0,152.2 94.6,146.1 95.8,148.0 C97.0,149.9 98.2,165.3 98.3,170.0 C98.4,174.7 96.9,185.7 96.3,188.6 C95.7,191.5 94.1,194.4 92.8,194.6 C91.5,194.8 86.0,192.1 84.8,190.6 C83.6,189.1 82.7,185.2 82.8,182.0 C82.9,178.8 85.2,166.3 85.8,163.0 C86.4,159.7 86.6,155.8 87.8,154.0Z" fill="#c8c8c8"/><ellipse cx="25.5" cy="63.5" rx="17.5" ry="14.5" fill="#c6c6c6"/><path d="M80.1,65.8 C82.5,61.6 92.8,56.5 98.4,54.7 C104.0,52.8 110.0,54.1 113.5,54.6 C117.1,55.2 119.2,56.9 119.5,57.8 C119.8,58.7 118.2,59.1 115.5,60.0 C112.7,60.8 108.0,59.8 102.8,63.1 C97.5,66.4 87.9,79.4 84.1,79.8 C80.3,80.2 77.7,70.0 80.1,65.8Z" fill="#d2d2d2"/><path d="M70.1,7.8 C72.9,7.0 74.0,9.9 75.6,11.6 C77.1,13.3 78.5,13.6 79.4,17.8 C80.3,22.0 80.5,30.6 80.8,36.8 C81.1,43.0 81.0,49.3 81.4,54.8 C81.8,60.3 86.3,66.0 83.4,69.8 C80.5,73.6 70.6,77.1 64.1,77.8 C57.5,78.5 49.3,76.1 44.1,73.8 C38.9,71.5 34.4,68.1 33.0,63.8 C31.7,59.5 34.3,53.3 36.0,47.8 C37.7,42.3 39.5,36.1 43.3,30.9 C47.1,25.7 54.4,20.2 58.9,16.4 C63.4,12.5 67.3,8.6 70.1,7.8Z" fill="url(#hg03)"/><path d="M38.0,67.8 C31.8,73.2 28.2,83.3 24.9,92.4 C21.5,101.5 18.6,113.5 17.8,122.4 C17.0,131.3 20.1,139.6 20.3,146.0 C20.5,152.4 13.1,158.6 19.2,161.0 C25.3,163.4 44.7,160.4 56.8,160.2 C68.8,159.9 85.5,162.4 91.8,159.5 C98.1,156.6 94.3,149.2 94.7,143.0 C95.1,136.8 95.1,131.5 94.2,122.0 C93.3,112.5 90.4,92.7 89.2,86.0 C88.0,79.3 88.2,85.2 87.1,81.8 C86.0,78.4 86.8,69.5 82.6,65.8 C78.4,62.1 69.5,59.5 62.1,59.8 C54.7,60.1 44.2,62.4 38.0,67.8Z" fill="#f2f2f2"/><ellipse cx="55.8" cy="119.9" rx="26.0" ry="34.1" fill="#fafafa"/><ellipse cx="54.9" cy="33.5" rx="2.2" ry="2.6" fill="#4a4a4a"/></g></g>
<g transform="translate(1183.9,64.3)" clip-path="url(#cl04)"><use href="#pbg"/><g filter="url(#mblur)"><path d="M54.3,215.0 L68.3,217.0 L65.6,246.0 L56.2,246.0Z" fill="#a2a2a2"/><path d="M95.8,216.0 C98.6,215.2 108.5,217.8 114.6,218.5 C120.6,219.2 129.2,219.5 132.3,220.5 C135.4,221.5 136.8,223.8 133.3,224.5 C129.8,225.2 117.5,225.2 111.6,225.0 C105.6,224.8 100.4,225.0 97.8,223.5 C95.2,222.0 93.0,216.8 95.8,216.0Z" fill="#939393"/><path d="M89.8,199.0 C92.0,198.1 95.7,204.2 99.8,205.5 C103.9,206.8 108.6,205.8 114.6,206.5 C120.5,207.2 131.6,208.5 135.3,210.0 C139.0,211.5 137.8,214.4 136.8,215.5 C135.8,216.6 133.3,216.5 129.3,216.5 C125.3,216.5 117.6,215.6 112.6,215.5 C107.5,215.4 103.1,216.8 98.8,216.0 C94.5,215.2 88.3,213.8 86.8,211.0 C85.3,208.2 87.6,199.9 89.8,199.0Z" fill="#adadad"/><path d="M18.7,167.4 L22.2,184.4 L30.0,198.5 L38.8,211.5 L47.8,225.0 L56.2,246.0 L61.8,246.0 L55.3,221.0 L47.3,207.5 L39.5,194.5 L31.7,181.4Z" fill="#b6b6b6"/><path d="M30.7,180.4 C33.7,176.8 50.7,179.6 60.8,179.6 C70.8,179.6 84.8,178.8 90.8,180.4 C96.8,182.0 95.5,186.2 96.8,189.4 C98.1,192.6 99.1,196.8 98.8,199.4 C98.5,202.0 97.4,202.4 94.8,205.0 C92.2,207.6 87.3,212.3 83.3,215.0 C79.3,217.7 74.5,219.2 70.8,221.0 C67.0,222.8 63.8,225.5 60.8,225.5 C57.8,225.5 55.8,225.1 52.8,221.0 C49.8,216.9 46.2,208.0 42.5,201.2 C38.8,194.4 27.7,184.0 30.7,180.4Z" fill="#858585"/><ellipse cx="66.8" cy="206.2" rx="13" ry="14" fill="#fff" opacity="0.09"/><circle cx="72.8" cy="200.2" r="3.2" fill="#fff" opacity="0.28"/><path d="M91.8,177.4 C93.0,175.7 98.6,169.5 99.8,171.4 C101.0,173.3 102.2,189.8 102.3,193.4 C102.4,197.0 100.9,200.3 100.3,202.0 C99.7,203.7 98.1,207.8 96.8,208.0 C95.5,208.2 90.0,204.3 88.8,204.0 C87.6,203.7 86.7,207.5 86.8,205.4 C86.9,203.3 89.2,189.7 89.8,186.4 C90.4,183.1 90.6,179.2 91.8,177.4Z" fill="#c8c8c8"/><ellipse cx="26.2" cy="84.5" rx="18.8" ry="11.5" fill="#c6c6c6"/><path d="M78.6,84.7 C79.9,80.0 86.6,73.6 90.4,70.7 C94.2,67.9 98.5,67.5 101.4,67.4 C104.3,67.3 107.4,69.3 107.9,70.0 C108.4,70.7 106.3,70.4 104.4,71.6 C102.5,72.9 100.1,73.1 96.5,77.6 C92.9,82.1 85.6,97.5 82.6,98.7 C79.6,99.9 77.3,89.4 78.6,84.7Z" fill="#d2d2d2"/><path d="M68.6,26.7 C71.4,25.9 72.5,28.8 74.1,30.5 C75.6,32.2 77.0,32.5 77.9,36.7 C78.8,40.9 79.0,49.5 79.3,55.7 C79.6,61.9 79.5,68.2 79.9,73.7 C80.3,79.2 84.8,84.9 81.9,88.7 C79.0,92.5 69.1,96.0 62.6,96.7 C56.0,97.4 47.2,95.0 42.6,92.7 C38.0,90.4 35.8,87.0 35.0,82.7 C34.2,78.4 36.9,72.2 38.0,66.7 C39.1,61.2 38.6,55.0 41.8,49.8 C45.0,44.6 52.9,39.1 57.4,35.3 C61.9,31.4 65.8,27.5 68.6,26.7Z" fill="url(#hg04)"/><path d="M38.6,86.7 C32.5,92.0 27.8,101.8 24.0,110.7 C20.3,119.6 17.1,130.2 16.2,140.0 C15.3,149.8 17.5,162.0 18.7,169.4 C19.9,176.8 16.2,182.0 23.2,184.4 C30.2,186.8 48.7,183.8 60.8,183.6 C72.8,183.3 89.9,185.1 95.8,182.9 C101.7,180.8 96.0,173.7 96.0,170.7 C96.0,167.7 96.8,171.7 96.0,164.7 C95.2,157.7 92.7,139.4 91.0,128.7 C89.3,118.0 87.2,108.0 85.6,100.7 C83.9,93.4 85.3,88.4 81.1,84.7 C76.9,81.0 67.7,78.4 60.6,78.7 C53.5,79.0 44.7,81.4 38.6,86.7Z" fill="#f2f2f2"/><ellipse cx="55.9" cy="141.1" rx="27.6" ry="36.4" fill="#fafafa"/><ellipse cx="53.4" cy="52.4" rx="2.2" ry="2.6" fill="#4a4a4a"/></g></g>
<g transform="translate(1324.6,64.3)" clip-path="url(#cl05)"><use href="#pbg"/><g filter="url(#mblur)"><path d="M50.5,208.0 L64.5,210.0 L61.8,246.0 L52.4,246.0Z" fill="#a2a2a2"/><path d="M95.4,209.0 C98.2,208.2 108.1,210.8 114.2,211.5 C120.2,212.2 128.8,212.5 131.9,213.5 C135.0,214.5 136.4,216.8 132.9,217.5 C129.4,218.2 117.1,218.2 111.2,218.0 C105.2,217.8 100.0,218.0 97.4,216.5 C94.8,215.0 92.6,209.8 95.4,209.0Z" fill="#939393"/><path d="M89.4,190.0 C91.6,189.1 95.3,195.2 99.4,196.5 C103.5,197.8 108.2,196.8 114.2,197.5 C120.1,198.2 131.2,199.5 134.9,201.0 C138.6,202.5 137.4,205.4 136.4,206.5 C135.4,207.6 132.9,207.5 128.9,207.5 C124.9,207.5 117.2,206.6 112.2,206.5 C107.1,206.4 102.7,207.8 98.4,207.0 C94.1,206.2 87.9,204.8 86.4,202.0 C84.9,199.2 87.2,190.9 89.4,190.0Z" fill="#adadad"/><path d="M18.3,149.6 L24.0,166.6 L29.9,184.2 L36.9,200.9 L44.0,218.0 L52.4,246.0 L58.0,246.0 L51.5,214.0 L45.4,196.9 L39.4,180.2 L33.5,163.6Z" fill="#b6b6b6"/><path d="M32.5,162.6 C35.8,158.1 51.8,161.8 61.5,161.8 C71.1,161.8 84.6,161.0 90.4,162.6 C96.2,164.2 95.1,168.4 96.4,171.6 C97.7,174.8 98.7,177.5 98.4,181.6 C98.1,185.7 97.3,191.8 94.4,196.0 C91.5,200.2 85.8,204.0 81.2,207.0 C76.6,210.0 71.0,212.1 67.0,214.0 C63.0,215.9 60.0,218.5 57.0,218.5 C54.0,218.5 51.6,218.9 49.0,214.0 C46.4,209.1 44.2,197.4 41.5,188.8 C38.8,180.2 29.2,167.1 32.5,162.6Z" fill="#858585"/><ellipse cx="67.5" cy="193.8" rx="13" ry="14" fill="#fff" opacity="0.09"/><circle cx="73.5" cy="187.8" r="3.2" fill="#fff" opacity="0.28"/><path d="M91.4,159.6 C92.6,157.8 98.2,151.7 99.4,153.6 C100.6,155.5 101.8,171.0 101.9,175.6 C102.0,180.2 100.5,190.3 99.9,193.0 C99.3,195.7 97.7,198.8 96.4,199.0 C95.1,199.2 89.6,196.3 88.4,195.0 C87.2,193.7 86.3,190.7 86.4,187.6 C86.5,184.5 88.8,171.9 89.4,168.6 C90.0,165.3 90.2,161.3 91.4,159.6Z" fill="#c8c8c8"/><ellipse cx="22.4" cy="65.5" rx="17.6" ry="16.5" fill="#c6c6c6"/><path d="M78.1,71.4 C79.6,68.2 87.4,66.1 91.4,66.1 C95.3,66.1 99.2,69.8 101.8,71.2 C104.5,72.6 107.3,73.6 107.5,74.5 C107.7,75.4 105.3,76.7 103.2,76.8 C101.1,76.9 98.4,73.6 94.8,75.1 C91.3,76.5 84.9,86.0 82.1,85.4 C79.3,84.8 76.6,74.6 78.1,71.4Z" fill="#d2d2d2"/><path d="M68.1,13.4 C70.9,12.6 72.0,15.5 73.6,17.2 C75.1,18.9 76.5,19.2 77.4,23.4 C78.3,27.6 78.5,36.2 78.8,42.4 C79.1,48.6 79.0,54.9 79.4,60.4 C79.8,65.9 84.3,71.6 81.4,75.4 C78.5,79.2 68.6,82.7 62.1,83.4 C55.5,84.1 47.4,81.7 42.1,79.4 C36.7,77.1 31.5,73.7 30.0,69.4 C28.5,65.1 31.1,58.9 33.0,53.4 C34.9,47.9 37.3,41.7 41.3,36.5 C45.3,31.3 52.4,25.9 56.9,22.0 C61.4,18.1 65.3,14.2 68.1,13.4Z" fill="url(#hg05)"/><path d="M35.0,73.4 C28.7,79.1 25.7,89.7 22.5,99.3 C19.3,108.9 16.5,122.3 15.8,131.0 C15.1,139.7 16.8,145.7 18.3,151.6 C19.8,157.5 17.8,164.2 25.0,166.6 C32.2,169.0 49.7,166.0 61.5,165.8 C73.2,165.5 90.5,166.8 95.4,165.1 C100.3,163.4 91.8,158.2 91.1,155.6 C90.4,153.0 91.9,156.6 91.1,149.6 C90.3,142.6 87.1,124.0 86.1,113.6 C85.1,103.2 86.0,94.4 85.1,87.4 C84.2,80.4 84.8,75.1 80.6,71.4 C76.4,67.7 67.7,65.1 60.1,65.4 C52.5,65.7 41.3,67.7 35.0,73.4Z" fill="#f2f2f2"/><ellipse cx="53.2" cy="125.5" rx="25.4" ry="34.1" fill="#fafafa"/><ellipse cx="52.9" cy="39.1" rx="2.2" ry="2.6" fill="#4a4a4a"/></g></g>
<g transform="translate(1465.3,64.3)" clip-path="url(#cl06)"><use href="#pbg"/><g filter="url(#mblur)"><path d="M55.8,201.0 L69.8,203.0 L67.1,246.0 L57.7,246.0Z" fill="#a2a2a2"/><path d="M91.8,202.0 C94.8,201.2 105.2,203.8 111.7,204.5 C118.1,205.2 127.2,205.5 130.5,206.5 C133.8,207.5 135.1,209.8 131.5,210.5 C127.9,211.2 114.9,211.2 108.7,211.0 C102.4,210.8 96.6,211.0 93.8,209.5 C91.0,208.0 88.8,202.8 91.8,202.0Z" fill="#939393"/><path d="M85.8,183.0 C88.0,182.1 91.5,188.2 95.8,189.5 C100.1,190.8 105.4,189.8 111.7,190.5 C117.9,191.2 129.6,192.5 133.5,194.0 C137.4,195.5 136.0,198.4 135.0,199.5 C134.0,200.6 131.7,200.5 127.5,200.5 C123.3,200.5 115.1,199.6 109.7,199.5 C104.2,199.4 99.3,200.8 94.8,200.0 C90.3,199.2 84.3,197.8 82.8,195.0 C81.3,192.2 83.6,183.9 85.8,183.0Z" fill="#adadad"/><path d="M21.4,148.5 L27.1,165.5 L33.8,181.2 L41.4,195.9 L49.3,211.0 L57.7,246.0 L63.3,246.0 L56.8,207.0 L49.9,191.9 L43.3,177.2 L36.6,162.5Z" fill="#b6b6b6"/><path d="M35.6,161.5 C38.2,157.5 52.7,160.7 61.2,160.7 C69.7,160.7 81.5,159.9 86.8,161.5 C92.1,163.1 91.5,167.3 92.8,170.5 C94.1,173.7 95.1,177.4 94.8,180.5 C94.5,183.6 92.9,185.8 90.8,189.0 C88.7,192.2 85.1,197.0 82.0,200.0 C79.0,203.0 75.6,205.1 72.3,207.0 C69.0,208.9 65.3,211.5 62.3,211.5 C59.3,211.5 57.1,211.5 54.3,207.0 C51.5,202.5 48.8,192.3 45.7,184.8 C42.6,177.2 33.0,165.5 35.6,161.5Z" fill="#858585"/><ellipse cx="67.2" cy="189.8" rx="13" ry="14" fill="#fff" opacity="0.09"/><circle cx="73.2" cy="183.8" r="3.2" fill="#fff" opacity="0.28"/><path d="M87.8,158.5 C89.3,156.8 97.4,150.6 99.0,152.5 C100.6,154.4 101.4,170.6 101.5,174.5 C101.6,178.4 100.5,184.0 99.5,186.0 C98.5,188.0 94.5,191.8 92.8,192.0 C91.1,192.2 86.0,188.6 84.8,188.0 C83.6,187.4 82.7,188.9 82.8,186.5 C82.9,184.1 85.2,170.8 85.8,167.5 C86.4,164.2 86.3,160.2 87.8,158.5Z" fill="#c8c8c8"/><ellipse cx="37.3" cy="68.0" rx="19.3" ry="10.0" fill="#c6c6c6"/><path d="M93.5,73.6 C93.8,69.0 97.1,62.9 99.1,60.0 C101.1,57.0 103.4,56.1 105.6,55.8 C107.9,55.4 111.9,57.3 112.5,57.8 C113.1,58.3 110.4,57.6 109.4,58.8 C108.3,60.1 108.2,60.3 106.2,65.1 C104.2,69.9 99.6,86.2 97.5,87.6 C95.4,89.0 93.2,78.2 93.5,73.6Z" fill="#d2d2d2"/><path d="M83.5,15.6 C86.3,14.8 87.5,17.7 89.0,19.4 C90.5,21.1 91.9,21.4 92.8,25.6 C93.7,29.8 93.9,38.4 94.2,44.6 C94.5,50.8 94.4,57.1 94.8,62.6 C95.2,68.1 99.7,73.8 96.8,77.6 C93.9,81.4 84.0,84.9 77.5,85.6 C71.0,86.3 62.6,83.9 57.5,81.6 C52.4,79.3 47.9,75.9 46.6,71.6 C45.3,67.3 47.9,61.1 49.6,55.6 C51.3,50.1 52.9,43.9 56.7,38.7 C60.5,33.5 67.8,28.1 72.3,24.2 C76.8,20.3 80.7,16.4 83.5,15.6Z" fill="url(#hg06)"/><path d="M51.6,75.6 C44.1,80.4 35.8,88.9 30.3,96.7 C24.9,104.5 20.4,113.4 18.9,122.4 C17.4,131.4 19.9,143.3 21.4,150.5 C22.9,157.7 21.5,163.1 28.1,165.5 C34.7,167.9 50.6,164.9 61.2,164.7 C71.8,164.4 85.5,165.7 91.8,164.0 C98.1,162.3 97.9,158.2 99.0,154.2 C100.1,150.2 99.4,148.4 98.5,140.0 C97.6,131.6 93.2,112.4 93.5,104.0 C93.8,95.6 100.1,94.7 100.5,89.6 C100.9,84.5 100.2,77.3 96.0,73.6 C91.8,69.9 82.9,67.3 75.5,67.6 C68.1,67.9 59.1,70.8 51.6,75.6Z" fill="#f2f2f2"/><ellipse cx="58.5" cy="126.0" rx="27.5" ry="32.5" fill="#fafafa"/><ellipse cx="68.3" cy="41.3" rx="2.2" ry="2.6" fill="#4a4a4a"/></g></g>
<g transform="translate(1606.0,64.3)" clip-path="url(#cl07)"><use href="#pbg"/><g filter="url(#mblur)"><path d="M49.7,207.0 L63.7,209.0 L61.0,246.0 L51.6,246.0Z" fill="#a2a2a2"/><path d="M86.8,208.0 C90.3,207.2 102.4,209.8 110.0,210.5 C117.6,211.2 128.3,211.5 132.2,212.5 C136.1,213.5 137.4,215.8 133.2,216.5 C129.0,217.2 114.4,217.2 107.0,217.0 C99.6,216.8 92.2,217.0 88.8,215.5 C85.4,214.0 83.3,208.8 86.8,208.0Z" fill="#939393"/><path d="M80.8,190.0 C83.0,189.1 85.9,195.2 90.8,196.5 C95.7,197.8 102.6,196.8 110.0,197.5 C117.4,198.2 130.8,199.5 135.2,201.0 C139.6,202.5 137.7,205.4 136.7,206.5 C135.7,207.6 134.0,207.5 129.2,207.5 C124.4,207.5 114.6,206.6 108.0,206.5 C101.4,206.4 94.8,207.8 89.8,207.0 C84.8,206.2 79.3,204.8 77.8,202.0 C76.3,199.2 78.6,190.9 80.8,190.0Z" fill="#adadad"/><path d="M15.3,148.5 L19.9,165.5 L26.9,183.2 L34.9,199.8 L43.2,217.0 L51.6,246.0 L57.2,246.0 L50.7,213.0 L43.5,195.8 L36.4,179.2 L29.4,162.5Z" fill="#b6b6b6"/><path d="M28.4,161.5 C31.1,157.0 46.2,160.7 55.1,160.7 C64.0,160.7 76.3,159.9 81.8,161.5 C87.2,163.1 86.5,167.3 87.8,170.5 C89.1,173.7 90.1,176.2 89.8,180.5 C89.5,184.8 88.0,191.7 85.8,196.0 C83.6,200.3 79.8,203.7 76.5,206.5 C73.2,209.3 69.6,211.2 66.2,213.0 C62.8,214.8 59.2,217.5 56.2,217.5 C53.2,217.5 51.1,218.0 48.2,213.0 C45.3,208.0 42.3,196.3 39.0,187.8 C35.8,179.2 25.7,166.0 28.4,161.5Z" fill="#858585"/><ellipse cx="61.1" cy="192.8" rx="13" ry="14" fill="#fff" opacity="0.09"/><circle cx="67.1" cy="186.8" r="3.2" fill="#fff" opacity="0.28"/><path d="M82.8,158.5 C84.5,156.8 93.5,150.6 95.3,152.5 C97.0,154.4 97.7,169.8 97.8,174.5 C97.9,179.2 97.0,190.1 95.8,193.0 C94.6,195.9 89.7,198.8 87.8,199.0 C85.9,199.2 81.0,196.5 79.8,195.0 C78.6,193.5 77.7,189.7 77.8,186.5 C77.9,183.3 80.2,170.8 80.8,167.5 C81.4,164.2 81.1,160.2 82.8,158.5Z" fill="#c8c8c8"/><ellipse cx="23.9" cy="56.8" rx="18.9" ry="12.2" fill="#c6c6c6"/><path d="M87.3,73.6 C88.5,70.1 95.3,67.2 98.8,66.6 C102.3,66.0 105.9,68.8 108.5,69.9 C111.1,71.0 114.2,72.1 114.5,73.0 C114.8,73.9 112.4,74.8 110.5,75.1 C108.7,75.4 106.5,72.9 103.3,74.9 C100.1,77.0 94.0,87.8 91.3,87.6 C88.6,87.4 86.1,77.1 87.3,73.6Z" fill="#d2d2d2"/><path d="M77.3,15.6 C80.1,14.8 81.2,17.7 82.8,19.4 C84.3,21.1 85.7,21.4 86.6,25.6 C87.5,29.8 87.7,38.4 88.0,44.6 C88.3,50.8 88.2,57.1 88.6,62.6 C89.0,68.1 93.5,73.8 90.6,77.6 C87.7,81.4 77.8,84.9 71.3,85.6 C64.8,86.3 57.7,83.9 51.3,81.6 C44.9,79.3 35.3,75.9 32.7,71.6 C30.1,67.3 32.7,61.1 35.7,55.6 C38.7,50.1 45.4,43.9 50.5,38.7 C55.6,33.5 61.6,28.1 66.1,24.2 C70.6,20.3 74.5,16.4 77.3,15.6Z" fill="url(#hg07)"/><path d="M37.7,75.6 C29.7,80.9 25.7,90.7 21.5,99.6 C17.4,108.5 13.8,120.5 12.8,129.0 C11.8,137.5 14.0,144.4 15.3,150.5 C16.6,156.6 14.3,163.1 20.9,165.5 C27.5,167.9 44.1,164.9 55.1,164.7 C66.1,164.4 80.2,165.7 86.8,164.0 C93.4,162.3 93.5,157.1 94.8,154.5 C96.1,151.9 95.6,155.5 94.8,148.5 C94.0,141.5 89.9,122.3 89.8,112.5 C89.7,102.7 94.3,96.1 94.3,89.6 C94.3,83.1 94.0,77.3 89.8,73.6 C85.6,69.9 78.0,67.3 69.3,67.6 C60.6,67.9 45.7,70.3 37.7,75.6Z" fill="#f2f2f2"/><ellipse cx="53.5" cy="126.0" rx="28.8" ry="32.5" fill="#fafafa"/><ellipse cx="62.1" cy="41.3" rx="2.2" ry="2.6" fill="#4a4a4a"/></g></g>
<g transform="translate(1746.7,64.3)" clip-path="url(#cl08)"><use href="#pbg"/><g filter="url(#mblur)"><path d="M55.9,205.8 L69.9,207.8 L67.2,246.0 L57.8,246.0Z" fill="#a2a2a2"/><path d="M86.3,206.8 C89.8,206.0 101.9,208.6 109.5,209.3 C117.1,210.1 127.8,210.3 131.7,211.3 C135.6,212.3 136.9,214.6 132.7,215.3 C128.5,216.1 113.9,216.0 106.5,215.8 C99.1,215.6 91.7,215.8 88.3,214.3 C84.9,212.8 82.8,207.6 86.3,206.8Z" fill="#939393"/><path d="M80.3,187.8 C82.5,186.9 85.4,193.1 90.3,194.3 C95.2,195.6 102.1,194.6 109.5,195.3 C116.9,196.1 130.2,197.3 134.7,198.8 C139.1,200.3 137.2,203.2 136.2,204.3 C135.2,205.4 133.5,205.3 128.7,205.3 C123.9,205.3 114.1,204.4 107.5,204.3 C100.9,204.2 94.3,205.6 89.3,204.8 C84.3,204.1 78.8,202.6 77.3,199.8 C75.8,197.0 78.1,188.7 80.3,187.8Z" fill="#adadad"/><path d="M20.4,147.3 L23.8,164.3 L31.6,182.0 L40.4,198.6 L49.4,215.8 L57.8,246.0 L63.4,246.0 L56.9,211.8 L48.9,194.6 L41.1,178.0 L33.3,161.3Z" fill="#b6b6b6"/><path d="M32.3,160.3 C34.4,155.8 48.6,159.5 56.8,159.5 C65.0,159.5 76.2,158.7 81.3,160.3 C86.4,161.9 86.0,166.1 87.3,169.3 C88.6,172.5 89.6,175.2 89.3,179.3 C89.0,183.4 87.0,189.6 85.3,193.8 C83.6,198.1 81.5,201.8 79.3,204.8 C77.2,207.8 75.2,209.9 72.4,211.8 C69.6,213.7 65.4,216.3 62.4,216.3 C59.4,216.3 57.5,216.8 54.4,211.8 C51.3,206.8 47.8,195.1 44.1,186.6 C40.4,178.0 30.2,164.8 32.3,160.3Z" fill="#858585"/><ellipse cx="62.8" cy="191.6" rx="13" ry="14" fill="#fff" opacity="0.09"/><circle cx="68.8" cy="185.6" r="3.2" fill="#fff" opacity="0.28"/><path d="M82.3,157.3 C84.4,155.6 96.0,149.4 98.1,151.3 C100.2,153.2 100.5,168.7 100.6,173.3 C100.7,177.9 100.2,188.1 98.6,190.8 C97.0,193.5 89.6,196.6 87.3,196.8 C85.0,197.0 80.5,194.1 79.3,192.8 C78.1,191.5 77.2,188.4 77.3,185.3 C77.4,182.2 79.7,169.6 80.3,166.3 C80.9,163.0 80.2,159.1 82.3,157.3Z" fill="#c8c8c8"/><ellipse cx="21.2" cy="57.9" rx="18.8" ry="8.9" fill="#c6c6c6"/><path d="M91.3,72.4 C91.7,67.9 95.5,62.0 97.7,59.2 C100.0,56.4 102.5,55.8 104.9,55.5 C107.2,55.3 111.1,57.1 111.7,57.7 C112.3,58.3 109.7,57.7 108.5,58.9 C107.4,60.0 106.9,60.1 104.7,64.7 C102.5,69.3 97.5,85.1 95.3,86.4 C93.1,87.7 90.9,76.9 91.3,72.4Z" fill="#d2d2d2"/><path d="M81.3,14.4 C84.1,13.6 85.2,16.5 86.8,18.2 C88.3,19.9 89.7,20.2 90.6,24.4 C91.5,28.6 91.7,37.2 92.0,43.4 C92.3,49.6 92.2,55.9 92.6,61.4 C93.0,66.9 97.5,72.6 94.6,76.4 C91.7,80.2 81.8,83.7 75.3,84.4 C68.8,85.1 62.8,82.7 55.3,80.4 C47.8,78.1 33.7,74.7 30.0,70.4 C26.3,66.1 28.9,59.9 33.0,54.4 C37.1,48.9 48.3,42.7 54.5,37.5 C60.7,32.3 65.6,26.9 70.1,23.0 C74.6,19.1 78.5,15.2 81.3,14.4Z" fill="url(#hg08)"/><path d="M35.0,74.4 C26.8,79.3 26.7,88.0 23.9,96.0 C21.0,104.0 18.5,113.5 17.9,122.4 C17.3,131.3 19.2,142.3 20.4,149.3 C21.5,156.3 18.7,161.9 24.8,164.3 C30.9,166.7 46.5,163.8 56.8,163.5 C67.0,163.2 79.5,164.5 86.3,162.8 C93.1,161.1 95.7,155.9 97.6,153.3 C99.5,150.7 98.4,154.3 97.6,147.3 C96.8,140.3 92.5,121.1 92.6,111.3 C92.7,101.5 98.1,94.9 98.3,88.4 C98.5,81.9 98.0,76.1 93.8,72.4 C89.6,68.7 83.1,66.1 73.3,66.4 C63.5,66.7 43.2,69.5 35.0,74.4Z" fill="#f2f2f2"/><ellipse cx="57.5" cy="124.9" rx="27.6" ry="32.5" fill="#fafafa"/><ellipse cx="66.1" cy="40.1" rx="2.2" ry="2.6" fill="#4a4a4a"/></g></g>
<g transform="translate(621.1,306.4)" clip-path="url(#cl10)"><use href="#pbg"/><g filter="url(#mblur)"><path d="M52.7,221.0 L66.7,223.0 L64.0,246.0 L54.6,246.0Z" fill="#a2a2a2"/><path d="M99.8,222.0 C102.5,221.2 112.0,223.8 117.9,224.5 C123.8,225.2 132.0,225.5 135.0,226.5 C138.0,227.5 139.3,229.8 136.0,230.5 C132.7,231.2 120.6,231.2 114.9,231.0 C109.2,230.8 104.3,231.0 101.8,229.5 C99.3,228.0 97.1,222.8 99.8,222.0Z" fill="#939393"/><path d="M93.8,207.7 C96.0,206.8 99.8,212.9 103.8,214.2 C107.8,215.4 112.2,214.4 117.9,215.2 C123.6,215.9 134.4,217.2 138.0,218.7 C141.6,220.2 140.5,223.1 139.5,224.2 C138.5,225.3 135.9,225.2 132.0,225.2 C128.1,225.2 120.8,224.3 115.9,224.2 C111.0,224.1 107.0,225.4 102.8,224.7 C98.6,223.9 92.3,222.5 90.8,219.7 C89.3,216.9 91.6,208.6 93.8,207.7Z" fill="#adadad"/><path d="M21.5,155.0 L21.8,172.0 L29.2,192.1 L37.6,211.3 L46.2,231.0 L54.6,246.0 L60.2,246.0 L53.7,227.0 L46.1,207.3 L38.7,188.1 L31.3,169.0Z" fill="#b6b6b6"/><path d="M30.3,168.0 C33.8,162.9 51.8,167.2 62.5,167.2 C73.3,167.2 88.4,166.4 94.8,168.0 C101.2,169.6 99.5,173.8 100.8,177.0 C102.1,180.2 103.1,180.9 102.8,187.0 C102.5,193.1 101.8,207.8 98.8,213.7 C95.8,219.6 89.4,220.1 84.5,222.3 C79.6,224.6 73.4,225.5 69.2,227.0 C65.0,228.5 62.2,231.5 59.2,231.5 C56.2,231.5 54.2,232.6 51.2,227.0 C48.2,221.4 45.0,207.8 41.5,198.0 C38.0,188.2 26.8,173.1 30.3,168.0Z" fill="#939393"/><ellipse cx="68.5" cy="203.0" rx="13" ry="14" fill="#fff" opacity="0.09"/><circle cx="74.5" cy="197.0" r="3.2" fill="#fff" opacity="0.28"/><path d="M95.8,165.0 C97.0,163.2 102.6,157.1 103.8,159.0 C105.0,160.9 106.2,175.0 106.3,181.0 C106.4,187.0 104.9,206.5 104.3,210.7 C103.7,214.9 102.1,216.5 100.8,216.7 C99.5,216.9 94.0,215.5 92.8,212.7 C91.6,209.9 90.7,197.5 90.8,193.0 C90.9,188.5 93.2,177.3 93.8,174.0 C94.4,170.7 94.6,166.8 95.8,165.0Z" fill="#c8c8c8"/><ellipse cx="20.7" cy="59.9" rx="19.3" ry="17.9" fill="#c6c6c6"/><path d="M75.9,75.6 C78.3,72.7 89.0,71.8 94.3,72.4 C99.7,73.1 104.8,77.9 107.9,79.7 C111.0,81.5 113.0,82.2 113.0,83.2 C113.0,84.2 110.9,85.9 108.1,85.7 C105.3,85.5 100.8,81.4 96.1,82.0 C91.4,82.7 83.3,90.7 79.9,89.6 C76.5,88.5 73.5,78.5 75.9,75.6Z" fill="#d2d2d2"/><path d="M65.9,17.6 C68.7,16.8 69.9,19.7 71.4,21.4 C73.0,23.1 74.3,23.4 75.2,27.6 C76.1,31.8 76.3,40.4 76.6,46.6 C76.9,52.8 76.8,59.1 77.2,64.6 C77.6,70.1 82.1,75.8 79.2,79.6 C76.3,83.4 66.5,86.9 59.9,87.6 C53.4,88.3 44.9,85.9 39.9,83.6 C34.9,81.3 31.2,77.9 30.0,73.6 C28.8,69.3 31.5,63.1 33.0,57.6 C34.5,52.1 35.5,45.9 39.1,40.7 C42.7,35.5 50.2,30.1 54.7,26.2 C59.2,22.4 63.1,18.4 65.9,17.6Z" fill="url(#hg10)"/><path d="M35.0,77.6 C29.4,82.9 27.3,92.7 24.6,101.6 C21.9,110.5 19.5,121.8 19.0,131.0 C18.5,140.2 20.9,150.2 21.5,157.0 C22.1,163.8 16.0,169.6 22.8,172.0 C29.6,174.4 49.7,171.4 62.5,171.2 C75.4,170.9 93.7,173.2 99.8,170.5 C105.9,167.8 99.1,158.6 98.9,155.0 C98.8,151.4 99.7,156.0 98.9,149.0 C98.1,142.0 96.6,122.6 93.9,113.0 C91.2,103.4 85.5,97.8 82.9,91.6 C80.3,85.4 82.6,79.3 78.4,75.6 C74.2,71.9 65.1,69.3 57.9,69.6 C50.7,69.9 40.5,72.3 35.0,77.6Z" fill="#f2f2f2"/><ellipse cx="58.7" cy="130.3" rx="27.7" ry="34.7" fill="#fafafa"/><ellipse cx="50.7" cy="43.3" rx="2.2" ry="2.6" fill="#4a4a4a"/></g></g>
<g transform="translate(761.8,306.4)" clip-path="url(#cl11)"><use href="#pbg"/><g filter="url(#mblur)"><path d="M46.3,216.9 L60.3,218.9 L57.6,246.0 L48.2,246.0Z" fill="#a2a2a2"/><path d="M86.8,217.9 C90.5,217.1 103.2,219.7 111.1,220.4 C119.0,221.2 130.3,221.4 134.4,222.4 C138.5,223.4 139.8,225.7 135.4,226.4 C131.0,227.2 115.9,227.1 108.1,226.9 C100.3,226.7 92.3,226.9 88.8,225.4 C85.2,223.9 83.1,218.7 86.8,217.9Z" fill="#939393"/><path d="M80.8,196.6 C83.0,195.7 85.8,201.8 90.8,203.1 C95.8,204.3 103.3,203.3 111.1,204.1 C118.9,204.8 132.8,206.1 137.4,207.6 C142.0,209.1 139.9,212.0 138.9,213.1 C137.9,214.2 136.4,214.1 131.4,214.1 C126.4,214.1 116.0,213.2 109.1,213.1 C102.2,213.0 95.0,214.3 89.8,213.6 C84.6,212.8 79.3,211.4 77.8,208.6 C76.3,205.8 78.6,197.5 80.8,196.6Z" fill="#adadad"/><path d="M16.4,146.0 L19.9,163.0 L25.8,184.8 L32.7,205.5 L39.8,226.9 L48.2,246.0 L53.8,246.0 L47.3,222.9 L41.2,201.5 L35.3,180.8 L29.4,160.0Z" fill="#b6b6b6"/><path d="M28.4,159.0 C31.4,153.5 46.2,158.2 55.1,158.2 C64.0,158.2 76.3,157.4 81.8,159.0 C87.2,160.6 86.5,164.8 87.8,168.0 C89.1,171.2 90.1,172.2 89.8,178.0 C89.5,183.8 88.3,196.5 85.8,202.6 C83.3,208.7 78.6,211.4 74.8,214.8 C71.0,218.1 66.5,220.8 62.8,222.9 C59.1,225.0 55.8,227.4 52.8,227.4 C49.8,227.4 47.4,228.9 44.8,222.9 C42.2,216.9 40.1,202.1 37.3,191.4 C34.6,180.8 25.4,164.5 28.4,159.0Z" fill="#939393"/><ellipse cx="61.1" cy="196.4" rx="13" ry="14" fill="#fff" opacity="0.09"/><circle cx="67.1" cy="190.4" r="3.2" fill="#fff" opacity="0.28"/><path d="M82.8,156.0 C84.4,154.2 92.5,148.1 94.1,150.0 C95.7,151.9 96.5,166.2 96.6,172.0 C96.7,177.8 95.6,195.7 94.6,199.6 C93.6,203.5 89.5,205.4 87.8,205.6 C86.1,205.8 81.0,204.1 79.8,201.6 C78.6,199.1 77.7,188.3 77.8,184.0 C77.9,179.7 80.2,168.3 80.8,165.0 C81.4,161.7 81.2,157.8 82.8,156.0Z" fill="#c8c8c8"/><ellipse cx="18.3" cy="68.8" rx="15.4" ry="17.8" fill="#c6c6c6"/><path d="M85.1,73.4 C87.0,69.0 95.7,63.1 100.5,60.8 C105.2,58.4 110.5,58.9 113.8,59.1 C117.0,59.3 119.6,61.2 120.0,62.0 C120.4,62.8 118.6,62.8 116.2,63.9 C113.8,65.0 110.2,64.6 105.7,68.6 C101.2,72.5 92.5,86.6 89.1,87.4 C85.7,88.2 83.2,77.8 85.1,73.4Z" fill="#d2d2d2"/><path d="M75.1,15.4 C77.9,14.6 79.0,17.5 80.6,19.2 C82.1,20.9 83.5,21.2 84.4,25.4 C85.3,29.6 85.5,38.2 85.8,44.4 C86.1,50.6 86.0,56.9 86.4,62.4 C86.8,67.9 91.3,73.6 88.4,77.4 C85.5,81.2 75.6,84.7 69.1,85.4 C62.5,86.1 56.6,83.7 49.1,81.4 C41.5,79.1 27.5,75.7 23.8,71.4 C20.1,67.1 22.7,60.9 26.8,55.4 C30.9,49.9 42.1,43.7 48.3,38.5 C54.5,33.3 59.4,27.9 63.9,24.0 C68.4,20.1 72.3,16.2 75.1,15.4Z" fill="url(#hg11)"/><path d="M28.8,75.4 C20.8,80.6 21.6,89.9 19.1,98.5 C16.6,107.0 14.4,118.4 13.9,126.7 C13.4,135.0 15.2,141.9 16.4,148.0 C17.6,154.1 14.4,160.6 20.9,163.0 C27.3,165.4 44.1,162.4 55.1,162.2 C66.1,161.9 80.3,163.4 86.8,161.5 C93.3,159.6 93.0,155.1 94.1,150.8 C95.2,146.5 94.5,144.1 93.6,135.6 C92.7,127.1 88.8,107.3 88.6,99.6 C88.3,91.9 92.3,93.8 92.1,89.4 C91.9,85.0 91.8,77.1 87.6,73.4 C83.4,69.7 76.9,67.1 67.1,67.4 C57.3,67.7 36.8,70.2 28.8,75.4Z" fill="#f2f2f2"/><ellipse cx="53.5" cy="124.7" rx="27.6" ry="31.3" fill="#fafafa"/><ellipse cx="59.9" cy="41.1" rx="2.2" ry="2.6" fill="#4a4a4a"/></g></g>
<g transform="translate(902.5,306.4)" clip-path="url(#cl12)"><use href="#pbg"/><g filter="url(#mblur)"><path d="M48.1,221.0 L62.1,223.0 L59.4,246.0 L50.0,246.0Z" fill="#a2a2a2"/><path d="M90.8,222.0 C93.8,221.2 104.2,223.8 110.7,224.5 C117.1,225.2 126.2,225.5 129.5,226.5 C132.8,227.5 134.1,229.8 130.5,230.5 C126.9,231.2 113.9,231.2 107.7,231.0 C101.4,230.8 95.6,231.0 92.8,229.5 C90.0,228.0 87.8,222.8 90.8,222.0Z" fill="#939393"/><path d="M84.8,201.0 C87.0,200.1 90.5,206.2 94.8,207.5 C99.1,208.8 104.4,207.8 110.7,208.5 C116.9,209.2 128.6,210.5 132.5,212.0 C136.4,213.5 135.0,216.4 134.0,217.5 C133.0,218.6 130.7,218.5 126.5,218.5 C122.3,218.5 114.1,217.6 108.7,217.5 C103.2,217.4 98.3,218.8 93.8,218.0 C89.3,217.2 83.3,215.8 81.8,213.0 C80.3,210.2 82.6,201.9 84.8,201.0Z" fill="#adadad"/><path d="M14.8,149.4 L17.2,166.4 L24.6,188.4 L33.0,209.4 L41.6,231.0 L50.0,246.0 L55.6,246.0 L49.1,227.0 L41.5,205.4 L34.1,184.4 L26.7,163.4Z" fill="#b6b6b6"/><path d="M25.7,162.4 C28.8,156.8 45.7,161.6 55.8,161.6 C65.8,161.6 79.8,160.8 85.8,162.4 C91.8,164.0 90.5,168.2 91.8,171.4 C93.1,174.6 94.1,175.5 93.8,181.4 C93.5,187.3 92.5,200.7 89.8,207.0 C87.1,213.3 81.9,215.7 77.7,219.0 C73.5,222.3 68.4,224.9 64.6,227.0 C60.7,229.1 57.6,231.5 54.6,231.5 C51.6,231.5 49.6,233.1 46.6,227.0 C43.6,220.9 40.4,206.0 36.9,195.2 C33.4,184.4 22.6,168.0 25.7,162.4Z" fill="#939393"/><ellipse cx="61.8" cy="200.2" rx="13" ry="14" fill="#fff" opacity="0.09"/><circle cx="67.8" cy="194.2" r="3.2" fill="#fff" opacity="0.28"/><path d="M86.8,159.4 C88.0,157.7 93.6,151.5 94.8,153.4 C96.0,155.3 97.2,169.5 97.3,175.4 C97.4,181.3 95.9,200.0 95.3,204.0 C94.7,208.0 93.1,209.8 91.8,210.0 C90.5,210.2 85.0,208.6 83.8,206.0 C82.6,203.4 81.7,191.8 81.8,187.4 C81.9,183.0 84.2,171.7 84.8,168.4 C85.4,165.1 85.6,161.2 86.8,159.4Z" fill="#c8c8c8"/><ellipse cx="19.6" cy="78.8" rx="16.1" ry="16.8" fill="#c6c6c6"/><path d="M80.2,73.4 C81.6,69.3 88.5,64.5 92.4,62.7 C96.2,60.9 100.3,62.1 103.2,62.5 C106.0,63.0 109.1,64.6 109.5,65.4 C109.9,66.2 107.8,66.4 105.8,67.3 C103.9,68.1 101.4,67.0 97.8,70.3 C94.2,73.7 87.1,86.9 84.2,87.4 C81.3,87.9 78.8,77.5 80.2,73.4Z" fill="#d2d2d2"/><path d="M70.2,15.4 C73.0,14.6 74.2,17.5 75.7,19.2 C77.2,20.9 78.6,21.2 79.5,25.4 C80.4,29.6 80.6,38.2 80.9,44.4 C81.2,50.6 81.1,56.9 81.5,62.4 C81.9,67.9 86.4,73.6 83.5,77.4 C80.6,81.2 70.8,84.7 64.2,85.4 C57.7,86.1 50.6,83.7 44.2,81.4 C37.8,79.1 28.2,75.7 25.6,71.4 C23.0,67.1 25.6,60.9 28.6,55.4 C31.6,49.9 38.3,43.7 43.4,38.5 C48.5,33.3 54.5,27.9 59.0,24.0 C63.5,20.1 67.4,16.2 70.2,15.4Z" fill="url(#hg12)"/><path d="M30.6,75.4 C23.4,81.2 21.8,92.5 18.7,102.5 C15.7,112.5 13.0,127.4 12.3,135.6 C11.6,143.8 13.8,146.3 14.8,151.4 C15.8,156.5 11.4,164.0 18.2,166.4 C25.0,168.8 43.7,165.8 55.8,165.6 C67.8,165.3 84.3,166.5 90.8,164.9 C97.3,163.3 94.2,159.6 94.8,155.9 C95.4,152.1 95.2,150.6 94.3,142.3 C93.4,134.0 90.5,115.1 89.3,106.3 C88.1,97.5 88.3,94.9 87.2,89.4 C86.1,83.9 86.9,77.1 82.7,73.4 C78.5,69.7 70.9,67.1 62.2,67.4 C53.5,67.7 37.8,69.6 30.6,75.4Z" fill="#f2f2f2"/><ellipse cx="53.0" cy="126.4" rx="28.8" ry="33.0" fill="#fafafa"/><ellipse cx="55.0" cy="41.1" rx="2.2" ry="2.6" fill="#4a4a4a"/></g></g>
<g transform="translate(1043.2,306.4)" clip-path="url(#cl13)"><use href="#pbg"/><g filter="url(#mblur)"><path d="M56.9,224.0 L70.9,226.0 L68.2,246.0 L58.8,246.0Z" fill="#a2a2a2"/><path d="M91.8,225.0 C95.1,224.2 106.3,226.8 113.3,227.5 C120.4,228.2 130.3,228.5 133.9,229.5 C137.5,230.5 138.8,232.8 134.9,233.5 C131.0,234.2 117.2,234.2 110.3,234.0 C103.5,233.8 96.9,234.0 93.8,232.5 C90.7,231.0 88.5,225.8 91.8,225.0Z" fill="#939393"/><path d="M85.8,210.0 C88.0,209.1 91.2,215.2 95.8,216.5 C100.4,217.8 106.5,216.8 113.3,217.5 C120.2,218.2 132.7,219.5 136.9,221.0 C141.1,222.5 139.4,225.4 138.4,226.5 C137.4,227.6 135.4,227.5 130.9,227.5 C126.4,227.5 117.4,226.6 111.3,226.5 C105.3,226.4 99.6,227.8 94.8,227.0 C90.0,226.2 84.3,224.8 82.8,222.0 C81.3,219.2 83.6,210.9 85.8,210.0Z" fill="#adadad"/><path d="M20.3,159.4 L17.1,176.4 L27.4,196.1 L38.7,214.8 L50.4,234.0 L58.8,246.0 L64.4,246.0 L57.9,230.0 L47.3,210.8 L36.9,192.1 L26.6,173.4Z" fill="#b6b6b6"/><path d="M25.6,172.4 C28.1,167.4 46.0,171.6 56.2,171.6 C66.4,171.6 80.7,170.8 86.8,172.4 C92.9,174.0 91.5,178.2 92.8,181.4 C94.1,184.6 95.1,185.6 94.8,191.4 C94.5,197.2 92.8,210.4 90.8,216.0 C88.8,221.6 85.5,222.7 82.6,225.0 C79.7,227.3 76.6,228.4 73.4,230.0 C70.2,231.6 66.4,234.5 63.4,234.5 C60.4,234.5 59.1,235.5 55.4,230.0 C51.7,224.5 46.2,211.3 41.2,201.7 C36.3,192.1 23.1,177.4 25.6,172.4Z" fill="#939393"/><ellipse cx="62.2" cy="206.7" rx="13" ry="14" fill="#fff" opacity="0.09"/><circle cx="68.2" cy="200.7" r="3.2" fill="#fff" opacity="0.28"/><path d="M87.8,169.4 C89.0,167.7 94.6,161.5 95.8,163.4 C97.0,165.3 98.2,179.6 98.3,185.4 C98.4,191.2 96.9,209.1 96.3,213.0 C95.7,216.9 94.1,218.8 92.8,219.0 C91.5,219.2 86.0,217.5 84.8,215.0 C83.6,212.5 82.7,201.7 82.8,197.4 C82.9,193.1 85.2,181.7 85.8,178.4 C86.4,175.1 86.6,171.2 87.8,169.4Z" fill="#c8c8c8"/><ellipse cx="17.1" cy="79.9" rx="14.8" ry="13.4" fill="#c6c6c6"/><path d="M72.3,76.7 C75.5,73.1 88.8,70.0 95.8,69.4 C102.8,68.8 110.2,71.9 114.1,73.1 C118.1,74.2 119.4,75.5 119.5,76.5 C119.6,77.5 118.4,78.6 114.9,78.9 C111.4,79.3 104.9,76.8 98.5,78.7 C92.0,80.7 80.7,91.0 76.3,90.7 C71.9,90.4 69.1,80.3 72.3,76.7Z" fill="#d2d2d2"/><path d="M62.3,18.7 C65.1,17.9 66.2,20.8 67.8,22.5 C69.3,24.2 70.7,24.5 71.6,28.7 C72.5,32.9 72.7,41.5 73.0,47.7 C73.3,53.9 73.2,60.2 73.6,65.7 C74.0,71.2 78.5,76.9 75.6,80.7 C72.7,84.5 62.8,88.0 56.3,88.7 C49.8,89.4 42.0,87.0 36.3,84.7 C30.6,82.4 23.9,79.0 22.0,74.7 C20.1,70.4 22.8,64.2 25.0,58.7 C27.2,53.2 31.2,47.0 35.5,41.8 C39.9,36.6 46.6,31.1 51.1,27.3 C55.6,23.4 59.5,19.5 62.3,18.7Z" fill="url(#hg13)"/><path d="M27.0,78.7 C21.5,84.6 22.6,96.1 21.0,106.3 C19.5,116.5 17.9,130.8 17.8,140.0 C17.7,149.2 20.2,155.3 20.3,161.4 C20.4,167.5 12.1,174.0 18.1,176.4 C24.1,178.8 43.9,175.8 56.2,175.6 C68.5,175.3 85.4,177.6 91.8,174.9 C98.2,172.2 94.3,165.5 94.7,159.7 C95.1,153.9 95.1,149.3 94.2,140.0 C93.3,130.7 91.7,111.9 89.2,104.0 C86.7,96.1 81.7,97.2 79.3,92.7 C76.9,88.2 79.0,80.4 74.8,76.7 C70.6,73.0 62.3,70.4 54.3,70.7 C46.3,71.0 32.5,72.8 27.0,78.7Z" fill="#f2f2f2"/><ellipse cx="55.8" cy="133.1" rx="26.0" ry="36.4" fill="#fafafa"/><ellipse cx="47.1" cy="44.4" rx="2.2" ry="2.6" fill="#4a4a4a"/></g></g>
<g transform="translate(1183.9,306.4)" clip-path="url(#cl14)"><use href="#pbg"/><g filter="url(#mblur)"><path d="M62.1,217.0 L76.1,219.0 L73.4,246.0 L64.0,246.0Z" fill="#a2a2a2"/><path d="M98.0,218.0 C100.4,217.2 109.2,219.8 114.5,220.5 C119.9,221.2 127.3,221.5 130.1,222.5 C132.9,223.5 134.2,225.8 131.1,226.5 C128.0,227.2 116.7,227.2 111.5,227.0 C106.4,226.8 102.3,227.0 100.0,225.5 C97.7,224.0 95.6,218.8 98.0,218.0Z" fill="#939393"/><path d="M92.0,199.0 C94.2,198.1 98.2,204.2 102.0,205.5 C105.8,206.8 109.4,205.8 114.5,206.5 C119.7,207.2 129.8,208.5 133.1,210.0 C136.4,211.5 135.6,214.4 134.6,215.5 C133.6,216.6 130.8,216.5 127.1,216.5 C123.4,216.5 116.9,215.6 112.5,215.5 C108.2,215.4 104.9,216.8 101.0,216.0 C97.1,215.2 90.5,213.8 89.0,211.0 C87.5,208.2 89.8,199.9 92.0,199.0Z" fill="#adadad"/><path d="M19.9,149.4 L17.8,166.4 L29.6,187.1 L42.4,206.7 L55.6,227.0 L64.0,246.0 L69.6,246.0 L63.1,223.0 L50.9,202.7 L39.1,183.1 L27.3,163.4Z" fill="#b6b6b6"/><path d="M26.3,162.4 C28.9,157.1 48.5,161.6 59.6,161.6 C70.8,161.6 86.4,160.8 93.0,162.4 C99.6,164.0 97.7,168.2 99.0,171.4 C100.3,174.6 101.3,175.8 101.0,181.4 C100.7,187.0 99.1,199.2 97.0,205.0 C94.9,210.8 91.4,213.0 88.3,216.0 C85.2,219.0 81.9,221.1 78.6,223.0 C75.3,224.9 71.6,227.5 68.6,227.5 C65.6,227.5 64.7,228.7 60.6,223.0 C56.5,217.3 49.9,203.3 44.2,193.2 C38.5,183.1 23.7,167.7 26.3,162.4Z" fill="#939393"/><ellipse cx="65.7" cy="198.2" rx="13" ry="14" fill="#fff" opacity="0.09"/><circle cx="71.7" cy="192.2" r="3.2" fill="#fff" opacity="0.28"/><path d="M94.0,159.4 C95.2,157.7 100.8,151.5 102.0,153.4 C103.2,155.3 104.4,169.7 104.5,175.4 C104.6,181.1 103.1,198.2 102.5,202.0 C101.9,205.8 100.3,207.8 99.0,208.0 C97.7,208.2 92.2,206.4 91.0,204.0 C89.8,201.6 88.9,191.6 89.0,187.4 C89.1,183.2 91.4,171.7 92.0,168.4 C92.6,165.1 92.8,161.2 94.0,159.4Z" fill="#c8c8c8"/><ellipse cx="13.4" cy="67.8" rx="9.4" ry="12.2" fill="#c6c6c6"/><path d="M79.7,73.4 C81.7,69.7 90.8,66.2 95.7,65.2 C100.5,64.3 105.5,66.8 108.7,67.8 C111.8,68.7 114.2,70.1 114.5,71.0 C114.8,71.9 112.8,72.7 110.3,73.2 C107.9,73.7 104.1,71.6 99.7,73.9 C95.2,76.3 87.0,87.5 83.7,87.4 C80.4,87.3 77.7,77.1 79.7,73.4Z" fill="#d2d2d2"/><path d="M69.7,15.4 C72.5,14.6 73.7,17.5 75.2,19.2 C76.8,20.9 78.1,21.2 79.0,25.4 C79.9,29.6 80.1,38.2 80.4,44.4 C80.7,50.6 80.6,56.9 81.0,62.4 C81.4,67.9 85.9,73.6 83.0,77.4 C80.1,81.2 70.2,84.7 63.7,85.4 C57.2,86.1 52.2,83.7 43.7,81.4 C35.2,79.1 17.5,75.7 12.8,71.4 C8.2,67.1 10.8,60.9 15.8,55.4 C20.8,49.9 35.8,43.7 42.9,38.5 C50.0,33.3 54.0,27.9 58.5,24.0 C63.0,20.1 66.9,16.2 69.7,15.4Z" fill="url(#hg14)"/><path d="M17.8,75.4 C10.4,81.6 17.6,93.7 17.5,104.5 C17.5,115.2 17.2,129.7 17.4,140.0 C17.6,150.3 11.8,162.1 18.8,166.4 C25.8,170.7 46.5,165.8 59.6,165.6 C72.8,165.3 91.2,166.6 98.0,164.9 C104.8,163.2 100.0,158.0 100.4,155.4 C100.8,152.8 101.2,156.4 100.4,149.4 C99.6,142.4 97.7,123.4 95.4,113.4 C93.1,103.4 88.9,96.1 86.7,89.4 C84.5,82.7 86.4,77.1 82.2,73.4 C78.0,69.7 72.4,67.1 61.7,67.4 C51.0,67.7 25.2,69.2 17.8,75.4Z" fill="#f2f2f2"/><ellipse cx="58.7" cy="126.4" rx="29.2" ry="33.0" fill="#fafafa"/><ellipse cx="54.5" cy="41.1" rx="2.2" ry="2.6" fill="#4a4a4a"/></g></g>
<g transform="translate(1324.6,306.4)" clip-path="url(#cl15)"><use href="#pbg"/><g filter="url(#mblur)"><path d="M34.9,220.0 L48.9,222.0 L46.2,246.0 L36.8,246.0Z" fill="#a2a2a2"/><path d="M90.9,221.0 C93.7,220.2 103.6,222.8 109.7,223.5 C115.7,224.2 124.3,224.5 127.4,225.5 C130.5,226.5 131.9,228.8 128.4,229.5 C124.9,230.2 112.6,230.2 106.7,230.0 C100.7,229.8 95.5,230.0 92.9,228.5 C90.3,227.0 88.1,221.8 90.9,221.0Z" fill="#939393"/><path d="M84.9,204.0 C87.1,203.1 90.8,209.2 94.9,210.5 C99.0,211.8 103.7,210.8 109.7,211.5 C115.6,212.2 126.7,213.5 130.4,215.0 C134.1,216.5 132.9,219.4 131.9,220.5 C130.9,221.6 128.4,221.5 124.4,221.5 C120.4,221.5 112.7,220.6 107.7,220.5 C102.6,220.4 98.2,221.8 93.9,221.0 C89.6,220.2 83.4,218.8 81.9,216.0 C80.4,213.2 82.7,204.9 84.9,204.0Z" fill="#adadad"/><path d="M16.1,159.4 L17.3,176.4 L20.3,194.8 L24.3,212.1 L28.4,230.0 L36.8,246.0 L42.4,246.0 L35.9,226.0 L32.8,208.1 L29.8,190.8 L26.8,173.4Z" fill="#b6b6b6"/><path d="M25.8,172.4 C30.1,167.7 45.8,171.6 55.9,171.6 C65.9,171.6 79.9,170.8 85.9,172.4 C91.9,174.0 90.6,178.2 91.9,181.4 C93.2,184.6 94.2,186.6 93.9,191.4 C93.6,196.2 93.7,205.2 89.9,210.0 C86.1,214.8 77.6,217.3 71.2,220.0 C64.7,222.7 56.4,224.2 51.4,226.0 C46.4,227.8 44.4,230.5 41.4,230.5 C38.4,230.5 35.2,231.1 33.4,226.0 C31.6,220.9 31.6,208.6 30.4,199.7 C29.1,190.8 21.6,177.1 25.8,172.4Z" fill="#939393"/><ellipse cx="61.9" cy="204.7" rx="13" ry="14" fill="#fff" opacity="0.09"/><circle cx="67.8" cy="198.7" r="3.2" fill="#fff" opacity="0.28"/><path d="M86.9,169.4 C88.1,167.7 93.7,161.5 94.9,163.4 C96.1,165.3 97.3,180.3 97.4,185.4 C97.5,190.5 96.0,203.8 95.4,207.0 C94.8,210.2 93.2,212.8 91.9,213.0 C90.6,213.2 85.1,210.8 83.9,209.0 C82.7,207.2 81.8,201.0 81.9,197.4 C82.0,193.8 84.3,181.7 84.9,178.4 C85.5,175.1 85.7,171.2 86.9,169.4Z" fill="#c8c8c8"/><ellipse cx="27.9" cy="66.5" rx="7.9" ry="13.5" fill="#c6c6c6"/><path d="M80.3,70.1 C82.6,67.3 93.1,66.6 98.2,67.5 C103.4,68.3 108.3,73.3 111.3,75.2 C114.3,77.0 116.3,77.7 116.3,78.7 C116.3,79.7 114.1,81.5 111.3,81.2 C108.6,81.0 104.3,76.6 99.8,77.1 C95.3,77.6 87.6,85.3 84.3,84.1 C81.0,82.9 78.0,72.9 80.3,70.1Z" fill="#d2d2d2"/><path d="M70.3,12.1 C73.1,11.3 74.2,14.2 75.8,15.9 C77.3,17.6 78.7,17.9 79.6,22.1 C80.5,26.3 80.7,34.9 81.0,41.1 C81.3,47.3 81.2,53.6 81.6,59.1 C82.0,64.6 86.5,70.3 83.6,74.1 C80.7,77.9 70.8,81.4 64.3,82.1 C57.8,82.8 50.7,80.4 44.3,78.1 C37.9,75.8 28.3,72.4 25.7,68.1 C23.1,63.8 25.7,57.6 28.7,52.1 C31.7,46.6 38.4,40.4 43.5,35.2 C48.6,30.0 54.6,24.6 59.1,20.7 C63.6,16.8 67.5,12.9 70.3,12.1Z" fill="url(#hg15)"/><path d="M30.7,72.1 C23.6,78.5 22.4,91.3 19.6,102.7 C16.7,114.0 14.2,130.2 13.6,140.0 C13.0,149.8 15.3,155.3 16.1,161.4 C16.9,167.5 11.7,174.0 18.3,176.4 C24.9,178.8 43.8,175.8 55.9,175.6 C68.0,175.3 84.7,177.6 90.9,174.9 C97.1,172.2 92.9,163.0 93.3,159.4 C93.7,155.8 94.1,160.4 93.3,153.4 C92.5,146.4 89.3,128.6 88.3,117.4 C87.3,106.2 88.2,94.0 87.3,86.1 C86.4,78.2 87.0,73.8 82.8,70.1 C78.6,66.4 71.0,63.8 62.3,64.1 C53.6,64.4 37.8,65.7 30.7,72.1Z" fill="#f2f2f2"/><ellipse cx="53.2" cy="129.8" rx="27.6" ry="39.7" fill="#fafafa"/><ellipse cx="55.1" cy="37.8" rx="2.2" ry="2.6" fill="#4a4a4a"/></g></g>
<g transform="translate(1465.3,306.4)" clip-path="url(#cl16)"><use href="#pbg"/><g filter="url(#mblur)"><path d="M43.5,223.5 L57.5,225.5 L54.8,246.0 L45.4,246.0Z" fill="#a2a2a2"/><path d="M87.3,224.5 C90.8,223.7 102.9,226.2 110.5,227.0 C118.1,227.8 128.8,228.0 132.7,229.0 C136.6,230.0 137.9,232.2 133.7,233.0 C129.5,233.8 114.9,233.7 107.5,233.5 C100.1,233.3 92.7,233.5 89.3,232.0 C85.9,230.5 83.8,225.3 87.3,224.5Z" fill="#939393"/><path d="M81.3,210.0 C83.5,209.1 86.4,215.2 91.3,216.5 C96.2,217.8 103.1,216.8 110.5,217.5 C117.9,218.2 131.2,219.5 135.7,221.0 C140.1,222.5 138.2,225.4 137.2,226.5 C136.2,227.6 134.5,227.5 129.7,227.5 C124.9,227.5 115.1,226.6 108.5,226.5 C101.9,226.4 95.3,227.8 90.3,227.0 C85.3,226.2 79.8,224.8 78.3,222.0 C76.8,219.2 79.1,210.9 81.3,210.0Z" fill="#adadad"/><path d="M20.2,155.0 L13.7,172.0 L20.7,193.0 L28.7,212.9 L37.0,233.5 L45.4,246.0 L51.0,246.0 L44.5,229.5 L37.3,208.9 L30.2,189.0 L23.2,169.0Z" fill="#b6b6b6"/><path d="M22.2,168.0 C25.4,162.7 42.2,167.2 52.2,167.2 C62.3,167.2 76.3,166.4 82.3,168.0 C88.3,169.6 87.0,173.8 88.3,177.0 C89.6,180.2 90.6,180.5 90.3,187.0 C90.0,193.5 89.1,209.7 86.3,216.0 C83.5,222.3 78.0,222.5 73.7,224.8 C69.3,227.0 63.9,228.0 60.0,229.5 C56.1,231.0 53.0,234.0 50.0,234.0 C47.0,234.0 44.9,235.3 42.0,229.5 C39.1,223.7 36.1,209.5 32.9,199.2 C29.6,189.0 19.0,173.3 22.2,168.0Z" fill="#939393"/><ellipse cx="58.2" cy="204.2" rx="13" ry="14" fill="#fff" opacity="0.09"/><circle cx="64.2" cy="198.2" r="3.2" fill="#fff" opacity="0.28"/><path d="M83.3,165.0 C84.5,163.2 90.1,157.1 91.3,159.0 C92.5,160.9 93.7,174.7 93.8,181.0 C93.9,187.3 92.4,208.6 91.8,213.0 C91.2,217.4 89.6,218.8 88.3,219.0 C87.0,219.2 81.5,218.0 80.3,215.0 C79.1,212.0 78.2,197.8 78.3,193.0 C78.4,188.2 80.7,177.3 81.3,174.0 C81.9,170.7 82.1,166.8 83.3,165.0Z" fill="#c8c8c8"/><ellipse cx="25.0" cy="66.5" rx="7.0" ry="24.5" fill="#c6c6c6"/><path d="M65.6,64.5 C69.0,61.7 82.7,61.0 89.7,61.8 C96.7,62.6 103.8,67.6 107.6,69.4 C111.4,71.3 112.5,72.0 112.5,73.0 C112.5,74.0 111.0,75.8 107.4,75.6 C103.8,75.3 97.2,71.0 90.9,71.5 C84.6,72.0 73.8,79.7 69.6,78.5 C65.4,77.3 62.2,67.3 65.6,64.5Z" fill="#d2d2d2"/><path d="M55.6,6.5 C58.4,5.7 59.5,8.6 61.1,10.3 C62.7,12.0 64.0,12.3 64.9,16.5 C65.8,20.7 66.0,29.3 66.3,35.5 C66.6,41.7 66.5,48.0 66.9,53.5 C67.3,59.0 71.8,64.7 68.9,68.5 C66.0,72.3 56.2,75.8 49.6,76.5 C43.0,77.2 34.2,74.8 29.6,72.5 C25.0,70.2 22.8,66.8 22.0,62.5 C21.2,58.2 23.9,52.0 25.0,46.5 C26.1,41.0 25.6,34.8 28.8,29.6 C32.0,24.4 39.9,18.9 44.4,15.1 C48.9,11.2 52.8,7.3 55.6,6.5Z" fill="url(#hg16)"/><path d="M25.6,66.5 C21.1,72.7 21.8,84.8 20.5,95.5 C19.1,106.3 17.7,120.8 17.7,131.0 C17.7,141.2 20.7,150.2 20.2,157.0 C19.7,163.8 9.4,169.6 14.7,172.0 C20.0,174.4 40.2,171.4 52.2,171.2 C64.3,170.9 81.2,173.1 87.3,170.5 C93.4,167.9 88.8,161.2 89.0,155.5 C89.2,149.8 89.4,145.2 88.5,136.0 C87.6,126.8 86.2,109.2 83.5,100.0 C80.8,90.8 75.2,86.4 72.6,80.5 C70.0,74.6 72.3,68.2 68.1,64.5 C63.9,60.8 54.7,58.2 47.6,58.5 C40.5,58.8 30.1,60.3 25.6,66.5Z" fill="#f2f2f2"/><ellipse cx="52.9" cy="124.8" rx="23.1" ry="40.2" fill="#fafafa"/><ellipse cx="40.4" cy="32.2" rx="2.2" ry="2.6" fill="#4a4a4a"/></g></g>
<g transform="translate(1606.0,306.4)" clip-path="url(#cl17)"><use href="#pbg"/><g filter="url(#mblur)"><path d="M46.4,219.0 L60.4,221.0 L57.7,246.0 L48.3,246.0Z" fill="#a2a2a2"/><path d="M89.0,220.0 C92.3,219.2 103.9,221.8 111.1,222.5 C118.3,223.2 128.5,223.5 132.2,224.5 C135.9,225.5 137.2,227.8 133.2,228.5 C129.2,229.2 115.1,229.2 108.1,229.0 C101.1,228.8 94.2,229.0 91.0,227.5 C87.8,226.0 85.7,220.8 89.0,220.0Z" fill="#939393"/><path d="M83.0,195.0 C85.2,194.1 88.3,200.2 93.0,201.5 C97.7,202.8 104.1,201.8 111.1,202.5 C118.1,203.2 130.9,204.5 135.2,206.0 C139.5,207.5 137.7,210.4 136.7,211.5 C135.7,212.6 133.8,212.5 129.2,212.5 C124.6,212.5 115.3,211.6 109.1,211.5 C102.9,211.4 96.8,212.8 92.0,212.0 C87.2,211.2 81.5,209.8 80.0,207.0 C78.5,204.2 80.8,195.9 83.0,195.0Z" fill="#adadad"/><path d="M13.1,141.0 L13.2,158.0 L21.3,182.1 L30.5,205.2 L39.9,229.0 L48.3,246.0 L53.9,246.0 L47.4,225.0 L39.0,201.2 L30.9,178.1 L22.7,155.0Z" fill="#b6b6b6"/><path d="M21.7,154.0 C24.8,147.9 42.5,153.2 52.9,153.2 C63.2,153.2 77.8,152.4 84.0,154.0 C90.2,155.6 88.7,159.8 90.0,163.0 C91.3,166.2 92.3,166.7 92.0,173.0 C91.7,179.3 90.7,194.0 88.0,201.0 C85.3,208.0 80.1,211.0 76.0,215.0 C71.8,219.0 66.7,222.6 62.9,225.0 C59.1,227.4 55.9,229.5 52.9,229.5 C49.9,229.5 48.0,231.6 44.9,225.0 C41.8,218.4 37.9,201.8 34.0,190.0 C30.2,178.2 18.6,160.1 21.7,154.0Z" fill="#939393"/><ellipse cx="58.9" cy="195.0" rx="13" ry="14" fill="#fff" opacity="0.09"/><circle cx="64.8" cy="189.0" r="3.2" fill="#fff" opacity="0.28"/><path d="M85.0,151.0 C86.2,149.2 91.8,143.1 93.0,145.0 C94.2,146.9 95.4,160.8 95.5,167.0 C95.6,173.2 94.1,193.7 93.5,198.0 C92.9,202.3 91.3,203.8 90.0,204.0 C88.7,204.2 83.2,202.9 82.0,200.0 C80.8,197.1 79.9,183.7 80.0,179.0 C80.1,174.3 82.4,163.3 83.0,160.0 C83.6,156.7 83.8,152.8 85.0,151.0Z" fill="#c8c8c8"/><ellipse cx="18.4" cy="62.0" rx="17.6" ry="9.0" fill="#c6c6c6"/><path d="M84.0,65.6 C84.8,61.9 90.2,58.5 93.1,57.4 C96.0,56.4 99.0,58.4 101.4,59.2 C103.9,59.9 107.3,61.2 107.8,62.0 C108.3,62.8 105.7,63.3 104.2,63.8 C102.6,64.3 101.3,62.3 98.6,64.9 C95.9,67.5 90.4,79.5 88.0,79.6 C85.6,79.7 83.2,69.3 84.0,65.6Z" fill="#d2d2d2"/><path d="M74.0,7.6 C76.8,6.8 78.0,9.7 79.5,11.4 C81.0,13.1 82.4,13.4 83.3,17.6 C84.2,21.8 84.4,30.4 84.7,36.6 C85.0,42.8 84.9,49.1 85.3,54.6 C85.7,60.1 90.2,65.8 87.3,69.6 C84.4,73.4 74.5,76.9 68.0,77.6 C61.5,78.3 55.0,75.9 48.0,73.6 C41.0,71.3 29.2,67.9 26.0,63.6 C22.8,59.3 25.5,53.1 29.0,47.6 C32.5,42.1 41.6,35.9 47.2,30.7 C52.8,25.5 58.3,20.1 62.8,16.2 C67.3,12.3 71.2,8.4 74.0,7.6Z" fill="url(#hg17)"/><path d="M31.0,67.6 C23.0,73.7 21.1,85.6 17.7,96.1 C14.3,106.7 11.2,120.7 10.6,131.0 C10.0,141.3 7.2,153.6 14.2,158.0 C21.2,162.4 40.4,157.4 52.9,157.2 C65.3,156.9 83.7,158.4 89.0,156.5 C94.3,154.6 85.4,148.8 84.7,146.0 C84.0,143.2 85.5,147.0 84.7,140.0 C83.9,133.0 78.7,113.7 79.7,104.0 C80.8,94.3 89.9,88.0 91.0,81.6 C92.1,75.2 90.7,69.3 86.5,65.6 C82.3,61.9 75.2,59.3 66.0,59.6 C56.8,59.9 39.0,61.5 31.0,67.6Z" fill="#f2f2f2"/><ellipse cx="47.4" cy="118.3" rx="24.8" ry="32.7" fill="#fafafa"/><ellipse cx="58.8" cy="33.3" rx="2.2" ry="2.6" fill="#4a4a4a"/></g></g>
<g transform="translate(1746.7,307.59999999999997)" clip-path="url(#cl18)"><use href="#pbg"/><g filter="url(#mblur)"><path d="M54.8,208.0 L68.8,210.0 L66.1,246.0 L56.7,246.0Z" fill="#a2a2a2"/><path d="M88.5,209.0 C91.8,208.2 103.4,210.8 110.6,211.5 C117.8,212.2 128.0,212.5 131.7,213.5 C135.4,214.5 136.7,216.8 132.7,217.5 C128.7,218.2 114.6,218.2 107.6,218.0 C100.6,217.8 93.7,218.0 90.5,216.5 C87.3,215.0 85.2,209.8 88.5,209.0Z" fill="#939393"/><path d="M82.5,195.0 C84.7,194.1 87.8,200.2 92.5,201.5 C97.2,202.8 103.6,201.8 110.6,202.5 C117.6,203.2 130.4,204.5 134.7,206.0 C139.0,207.5 137.2,210.4 136.2,211.5 C135.2,212.6 133.3,212.5 128.7,212.5 C124.1,212.5 114.8,211.6 108.6,211.5 C102.4,211.4 96.3,212.8 91.5,212.0 C86.7,211.2 81.0,209.8 79.5,207.0 C78.0,204.2 80.3,195.9 82.5,195.0Z" fill="#adadad"/><path d="M14.8,141.6 L17.2,158.6 L26.8,178.9 L37.4,198.1 L48.3,218.0 L56.7,246.0 L62.3,246.0 L55.8,214.0 L45.9,194.1 L36.3,174.9 L26.7,155.6Z" fill="#b6b6b6"/><path d="M25.7,154.6 C28.1,149.4 45.0,153.8 54.6,153.8 C64.2,153.8 77.7,153.0 83.5,154.6 C89.3,156.2 88.2,160.4 89.5,163.6 C90.8,166.8 91.8,167.4 91.5,173.6 C91.2,179.8 89.4,195.0 87.5,201.0 C85.6,207.0 82.6,207.3 79.9,209.5 C77.2,211.7 74.4,212.5 71.3,214.0 C68.2,215.5 64.3,218.5 61.3,218.5 C58.3,218.5 56.8,219.6 53.3,214.0 C49.8,208.4 44.9,194.7 40.2,184.8 C35.6,174.9 23.3,159.8 25.7,154.6Z" fill="#939393"/><ellipse cx="60.6" cy="189.8" rx="13" ry="14" fill="#fff" opacity="0.09"/><circle cx="66.6" cy="183.8" r="3.2" fill="#fff" opacity="0.28"/><path d="M84.5,151.6 C85.8,149.8 92.3,143.7 93.7,145.6 C95.1,147.5 96.1,161.5 96.2,167.6 C96.3,173.7 95.0,193.8 94.2,198.0 C93.4,202.2 91.0,203.8 89.5,204.0 C88.0,204.2 82.7,202.8 81.5,200.0 C80.3,197.2 79.4,184.2 79.5,179.6 C79.6,175.0 81.9,163.9 82.5,160.6 C83.1,157.3 83.2,153.3 84.5,151.6Z" fill="#c8c8c8"/><ellipse cx="16.8" cy="48.2" rx="16.5" ry="7.2" fill="#c6c6c6"/><path d="M89.1,70.1 C90.5,66.1 97.5,61.6 101.3,59.9 C105.2,58.3 109.3,59.7 112.1,60.2 C115.0,60.7 118.0,62.3 118.4,63.1 C118.8,63.9 116.6,64.3 114.7,65.0 C112.7,65.8 110.2,64.5 106.6,67.6 C103.0,70.8 96.0,83.7 93.1,84.1 C90.2,84.5 87.7,74.1 89.1,70.1Z" fill="#d2d2d2"/><path d="M79.1,12.1 C81.9,11.3 83.0,14.2 84.6,15.9 C86.1,17.6 87.5,17.9 88.4,22.1 C89.3,26.3 89.5,34.9 89.8,41.1 C90.1,47.3 90.0,53.6 90.4,59.1 C90.8,64.6 95.3,70.3 92.4,74.1 C89.5,77.9 79.6,81.4 73.1,82.1 C66.5,82.8 61.4,80.4 53.1,78.1 C44.8,75.8 27.8,72.4 23.3,68.1 C18.8,63.8 21.5,57.6 26.3,52.1 C31.1,46.6 45.4,40.4 52.3,35.2 C59.2,30.0 63.4,24.6 67.9,20.7 C72.4,16.8 76.3,12.9 79.1,12.1Z" fill="url(#hg18)"/><path d="M28.3,72.1 C19.4,77.2 20.6,86.3 17.9,94.6 C15.2,103.0 12.8,114.0 12.3,122.2 C11.8,130.4 13.8,137.5 14.8,143.6 C15.8,149.7 11.6,156.2 18.2,158.6 C24.8,161.0 42.9,158.0 54.6,157.8 C66.3,157.5 82.0,159.0 88.5,157.1 C95.0,155.2 92.9,150.7 93.7,146.3 C94.5,142.0 94.1,139.6 93.2,131.1 C92.3,122.6 87.7,102.6 88.2,95.1 C88.7,87.6 95.5,90.3 96.1,86.1 C96.7,81.9 95.8,73.8 91.6,70.1 C87.4,66.4 81.6,63.8 71.1,64.1 C60.5,64.4 37.2,67.0 28.3,72.1Z" fill="#f2f2f2"/><ellipse cx="52.5" cy="120.8" rx="28.2" ry="30.8" fill="#fafafa"/><ellipse cx="63.9" cy="37.8" rx="2.2" ry="2.6" fill="#4a4a4a"/></g></g>
<g filter="url(#hblur)"><path d="M819.8,258.0 C819.5,255.8 819.8,252.9 821.0,251.5 C822.2,250.1 824.9,249.5 827.0,249.3 C829.1,249.1 831.9,249.4 833.5,250.5 C835.1,251.6 836.5,253.8 836.8,256.0 C837.1,258.2 836.8,261.7 835.5,263.5 C834.2,265.3 831.2,266.6 829.0,266.8 C826.8,267.0 824.0,266.3 822.5,264.8 C821.0,263.3 820.0,260.2 819.8,258.0Z" fill="url(#hDark)"/><circle cx="970.0" cy="251.5" r="7.4" fill="url(#hDark)"/><path d="M1112.5,226.5 C1113.2,225.4 1114.3,223.8 1115.5,223.5 C1116.7,223.2 1119.0,224.0 1119.5,224.8 C1120.0,225.6 1118.1,227.3 1118.3,228.5 C1118.5,229.7 1120.9,230.9 1120.5,232.0 C1120.1,233.1 1117.7,234.7 1116.0,235.0 C1114.3,235.3 1111.2,234.8 1110.5,234.0 C1109.8,233.2 1111.2,231.2 1111.5,230.0 C1111.8,228.8 1111.8,227.6 1112.5,226.5Z" fill="#8a0000"/><circle cx="1114.9" cy="241.8" r="10.0" fill="url(#hRed)"/><path d="M1232.4,246.9 C1233.2,245.9 1238.7,244.7 1241.3,244.3 C1243.9,243.9 1249.3,243.8 1252.0,243.8 C1254.7,243.8 1259.6,244.0 1261.3,244.5 C1263.0,245.0 1264.6,246.3 1264.9,247.8 C1265.2,249.3 1264.4,254.1 1263.5,256.0 C1262.6,257.9 1260.6,261.2 1258.0,262.0 C1255.4,262.8 1246.5,262.9 1244.0,262.0 C1241.5,261.1 1240.6,257.0 1239.5,255.6 C1238.4,254.2 1236.4,252.7 1235.5,251.5 C1234.6,250.3 1231.6,247.9 1232.4,246.9Z" fill="#8c0000"/><circle cx="1252.4" cy="264.5" r="12.4" fill="url(#hOr)"/><path d="M1364.8,231.2 C1365.0,229.7 1371.5,229.1 1374.0,228.6 C1376.5,228.1 1380.8,227.6 1383.7,227.6 C1386.6,227.6 1393.0,228.2 1396.0,228.8 C1399.0,229.4 1404.3,229.9 1406.0,232.3 C1407.7,234.7 1409.0,243.0 1408.4,246.7 C1407.8,250.4 1404.0,258.1 1401.6,260.1 C1399.2,262.1 1393.4,262.9 1390.4,262.0 C1387.4,261.1 1381.7,256.3 1379.3,253.4 C1376.9,250.5 1374.5,243.0 1372.6,240.0 C1370.7,237.0 1364.6,232.7 1364.8,231.2Z" fill="#990000"/><circle cx="1394.4" cy="250.3" r="12.6" fill="url(#hYel)"/><path d="M1517.5,232.3 C1518.1,230.9 1522.8,230.0 1525.0,229.5 C1527.2,229.0 1531.3,228.5 1534.2,228.7 C1537.1,228.9 1544.5,229.7 1546.5,231.2 C1548.5,232.7 1548.8,237.0 1548.9,240.0 C1549.0,243.0 1548.3,250.5 1547.6,253.4 C1546.9,256.3 1544.9,259.9 1544.0,262.0 C1543.1,264.1 1541.9,268.9 1541.2,269.2 C1540.5,269.5 1540.0,265.1 1538.5,264.0 C1537.0,262.9 1532.0,262.6 1529.8,261.2 C1527.6,259.8 1523.2,256.2 1522.0,253.4 C1520.8,250.6 1521.4,242.8 1520.8,240.0 C1520.2,237.2 1516.9,233.7 1517.5,232.3Z" fill="#a00000"/><circle cx="1536.4" cy="248.5" r="12.6" fill="url(#hYel)"/><path d="M1654.0,230.0 C1654.9,229.0 1659.9,228.1 1662.0,227.6 C1664.1,227.1 1667.2,226.4 1670.0,226.6 C1672.8,226.8 1681.3,227.8 1683.3,228.9 C1685.3,230.0 1685.0,233.3 1684.7,234.5 C1684.4,235.7 1680.9,236.4 1681.0,238.0 C1681.1,239.6 1685.6,244.4 1685.8,246.7 C1686.0,249.0 1684.0,253.8 1682.2,255.6 C1680.4,257.4 1674.9,260.4 1672.2,260.5 C1669.5,260.6 1664.2,258.5 1662.2,256.7 C1660.2,254.9 1657.9,249.1 1657.5,246.7 C1657.1,244.3 1659.8,240.1 1659.5,238.5 C1659.2,236.9 1655.7,235.9 1655.0,234.8 C1654.3,233.7 1653.1,231.0 1654.0,230.0Z" fill="#a00000"/><path d="M1674.3,267.2 C1674.6,266.9 1678.1,265.4 1678.3,265.6 C1678.5,265.8 1677.3,270.1 1677.0,270.4 C1676.7,270.7 1673.8,270.8 1673.6,270.6 C1673.4,270.4 1674.0,267.5 1674.3,267.2Z" fill="#900000"/><circle cx="1672.2" cy="246.7" r="12.4" fill="url(#hYel)"/><circle cx="1810.9" cy="246.3" r="10.0" fill="url(#hDark)"/><path d="M1094.4,480.2 C1094.6,479.1 1096.0,477.1 1097.0,476.3 C1098.0,475.5 1099.4,475.1 1101.1,474.7 C1102.8,474.3 1106.0,474.0 1108.0,473.9 C1110.0,473.8 1112.8,473.6 1114.4,474.3 C1116.0,475.0 1118.7,477.2 1118.9,478.5 C1119.1,479.8 1117.0,481.7 1116.0,482.8 C1115.0,483.9 1113.8,484.9 1112.2,485.6 C1110.6,486.4 1107.5,487.7 1105.5,487.8 C1103.5,487.9 1100.5,486.8 1099.0,486.2 C1097.5,485.6 1096.2,484.5 1095.5,483.6 C1094.8,482.7 1094.2,481.3 1094.4,480.2Z" fill="#9a0000"/><path d="M1239.1,469.8 C1239.3,468.6 1243.1,466.2 1245.8,465.4 C1248.5,464.6 1254.4,464.0 1256.9,464.5 C1259.4,465.0 1260.5,467.7 1262.5,468.5 C1264.5,469.3 1269.1,468.9 1270.2,469.6 C1271.3,470.3 1271.3,472.7 1269.8,473.4 C1268.3,474.1 1262.3,473.5 1260.2,474.5 C1258.1,475.5 1257.3,479.5 1255.8,480.0 C1254.3,480.5 1251.9,478.8 1250.2,477.8 C1248.5,476.8 1246.3,474.6 1244.6,473.4 C1242.9,472.2 1238.9,471.0 1239.1,469.8Z" fill="#9a0000"/><ellipse cx="1249.8" cy="492.1" rx="2.9" ry="3.6" fill="#9a0000"/><path d="M1372.6,478.2 C1372.3,477.1 1379.2,475.0 1381.5,474.3 C1383.8,473.6 1387.6,473.4 1390.0,473.3 C1392.4,473.2 1397.8,472.3 1399.3,473.5 C1400.8,474.7 1401.4,480.1 1401.3,482.0 C1401.2,483.9 1399.0,486.3 1398.2,487.8 C1397.4,489.3 1395.9,492.3 1395.2,493.0 C1394.5,493.7 1392.8,493.9 1392.6,493.0 C1392.4,492.1 1393.5,487.4 1393.4,486.0 C1393.3,484.6 1392.8,482.8 1391.5,482.3 C1390.2,481.8 1386.3,482.9 1383.8,482.4 C1381.3,481.9 1372.9,479.3 1372.6,478.2Z" fill="#860000"/><circle cx="1392.2" cy="501.0" r="8.0" fill="url(#hRed)"/><path d="M1520.2,476.2 C1520.4,475.6 1522.7,472.4 1523.2,472.4 C1523.7,472.4 1524.6,475.4 1525.0,476.0 C1525.4,476.6 1527.5,478.4 1527.2,478.6 C1526.9,478.8 1522.2,478.6 1521.5,478.4 C1520.8,478.2 1520.0,476.8 1520.2,476.2Z" fill="#900000"/><path d="M1523.5,488.5 C1523.9,487.4 1526.1,484.8 1527.0,484.0 C1527.9,483.2 1530.0,482.1 1530.6,482.6 C1531.2,483.1 1531.4,486.5 1531.5,488.0 C1531.6,489.5 1532.0,493.5 1531.0,494.0 C1530.0,494.5 1525.0,492.7 1524.0,492.0 C1523.0,491.3 1523.1,489.6 1523.5,488.5Z" fill="#a00000"/><circle cx="1522.0" cy="497.6" r="10.2" fill="url(#hRed)"/><circle cx="1669.3" cy="485.4" r="9.5" fill="url(#hRed)"/><circle cx="1811.3" cy="485.4" r="7.9" fill="url(#hDark)"/></g>
<text x="13.4" y="605.4" font-size="38" font-weight="bold" fill="#000" textLength="23.3" lengthAdjust="spacingAndGlyphs">c</text>
<path d="M126.5,597.5 L126.5,1019.3 M118.7,1019.3 L648.7,1019.3" fill="none" stroke="#000" stroke-width="3.0"/>
<path d="M118.2,851.2 L126.5,851.2 M118.2,683.1 L126.5,683.1 M122.3,935.2 L126.5,935.2 M122.3,767.1 L126.5,767.1 M122.3,599.0 L126.5,599.0 M131.6,1019.3 L131.6,1028.1 M225.4,1019.3 L225.4,1028.1 M319.3,1019.3 L319.3,1028.1 M413.1,1019.3 L413.1,1028.1 M507.0,1019.3 L507.0,1028.1 M600.9,1019.3 L600.9,1028.1 M178.5,1019.3 L178.5,1024.3 M272.4,1019.3 L272.4,1024.3 M366.2,1019.3 L366.2,1024.3 M460.1,1019.3 L460.1,1024.3 M553.9,1019.3 L553.9,1024.3 M647.8,1019.3 L647.8,1024.3 " fill="none" stroke="#000" stroke-width="3.0"/>
<text x="110.3" y="1026.8" font-size="28" font-weight="bold" fill="#000" text-anchor="end">0</text>
<text x="110.3" y="860.9" font-size="28" font-weight="bold" fill="#000" text-anchor="end">1</text>
<text x="110.3" y="696.0" font-size="28" font-weight="bold" fill="#000" text-anchor="end">2</text>
<text x="131.3" y="1055.9" font-size="28" font-weight="bold" fill="#000" text-anchor="middle">0</text>
<text x="225.1" y="1055.9" font-size="28" font-weight="bold" fill="#000" text-anchor="middle">10</text>
<text x="319.0" y="1055.9" font-size="28" font-weight="bold" fill="#000" text-anchor="middle">20</text>
<text x="412.8" y="1055.9" font-size="28" font-weight="bold" fill="#000" text-anchor="middle">30</text>
<text x="506.7" y="1055.9" font-size="28" font-weight="bold" fill="#000" text-anchor="middle">40</text>
<text x="600.6" y="1055.9" font-size="28" font-weight="bold" fill="#000" text-anchor="middle">50</text>
<text x="316.6" y="1091.6" font-size="28" font-weight="bold" fill="#000" textLength="109.6" lengthAdjust="spacingAndGlyphs">Time (h)</text>
<text x="42.3" y="985.6" font-size="28" font-weight="bold" fill="#000" textLength="301.0" lengthAdjust="spacingAndGlyphs" transform="rotate(-90 42.3 985.6)">Average Fluorescence</text>
<text x="75.8" y="936.7" font-size="28" font-weight="bold" fill="#000" textLength="203.6" lengthAdjust="spacingAndGlyphs" transform="rotate(-90 75.8 936.7)">Intensity <tspan font-weight="normal">(×10<tspan font-size="17" dy="-9">9</tspan><tspan dy="9">)</tspan></tspan></text>
<path d="M136.3,925.7 C137.1,924.9 138.6,924.8 141.0,921.0 C143.3,917.1 145.7,910.5 150.4,902.5 C155.1,894.5 159.8,886.0 169.1,872.9 C178.5,859.8 194.2,842.0 206.7,823.8 C219.2,805.6 231.7,782.4 244.2,763.6 C256.7,744.9 269.2,726.0 281.8,711.3 C294.3,696.6 306.8,683.8 319.3,675.4 C331.8,666.9 348.5,663.2 356.8,660.6 C365.2,658.0 363.4,658.6 369.3,659.7 C375.2,660.8 384.3,663.3 392.5,667.4 C400.7,671.5 409.9,677.5 418.7,684.4 C427.4,691.2 436.2,699.5 445.0,708.5 C453.8,717.5 462.5,727.4 471.2,738.2 C479.9,749.1 488.6,761.1 497.4,773.6 C506.1,786.1 515.0,799.6 523.7,813.0 C532.5,826.4 541.1,839.5 549.9,853.9 C558.6,868.3 570.8,889.7 576.2,899.5 C581.6,909.3 581.1,910.3 582.1,912.5" fill="none" stroke="#ff0000" stroke-width="2.8"/>
<path d="M136.3,977.3 C137.1,975.7 138.6,970.0 141.0,967.5 C143.3,965.0 145.7,965.7 150.4,962.3 C155.1,958.9 159.8,952.9 169.1,947.0 C178.5,941.1 194.2,933.0 206.7,927.0 C219.2,921.0 231.7,915.8 244.2,911.0 C256.7,906.3 269.2,901.9 281.8,898.3 C294.3,894.6 306.8,891.4 319.3,889.0 C331.8,886.6 349.0,884.8 356.8,884.0 C364.7,883.1 360.3,883.3 366.2,883.8 C372.1,884.3 383.8,885.6 392.5,887.0 C401.2,888.4 409.9,889.9 418.7,891.9 C427.4,893.9 436.2,896.2 445.0,898.8 C453.8,901.4 462.5,904.6 471.2,907.7 C479.9,910.8 488.6,914.1 497.4,917.6 C506.1,921.1 515.0,924.7 523.7,928.6 C532.5,932.5 540.2,936.2 549.9,941.2 C559.6,946.2 576.7,955.8 582.1,958.7" fill="none" stroke="#000" stroke-width="2.8"/>
<path d="M136.3,913.7 L146.7,931.7 L125.9,931.7Z" fill="#fff" stroke="#ff0000" stroke-width="4.0" stroke-linejoin="round"/>
<path d="M141.0,917.6 L141.0,924.3 M135.1,917.6 L146.9,917.6 M135.1,924.3 L146.9,924.3" fill="none" stroke="#ff0000" stroke-width="3.5"/>
<path d="M141.0,909.0 L151.4,927.0 L130.6,927.0Z" fill="#fff" stroke="#ff0000" stroke-width="4.0" stroke-linejoin="round"/>
<path d="M135.1,917.6 L146.9,917.6 M135.1,924.3 L146.9,924.3" fill="none" stroke="#ff0000" stroke-width="3.5"/>
<path d="M150.4,899.1 L150.4,905.8 M144.5,899.1 L156.3,899.1 M144.5,905.8 L156.3,905.8" fill="none" stroke="#ff0000" stroke-width="3.5"/>
<path d="M150.4,890.5 L160.8,908.5 L140.0,908.5Z" fill="#fff" stroke="#ff0000" stroke-width="4.0" stroke-linejoin="round"/>
<path d="M144.5,899.1 L156.3,899.1 M144.5,905.8 L156.3,905.8" fill="none" stroke="#ff0000" stroke-width="3.5"/>
<path d="M169.1,867.8 L169.1,877.9 M163.2,867.8 L175.0,867.8 M163.2,877.9 L175.0,877.9" fill="none" stroke="#ff0000" stroke-width="3.5"/>
<path d="M169.1,860.9 L179.5,878.9 L158.7,878.9Z" fill="#fff" stroke="#ff0000" stroke-width="4.0" stroke-linejoin="round"/>
<path d="M163.2,867.8 L175.0,867.8 M163.2,877.9 L175.0,877.9" fill="none" stroke="#ff0000" stroke-width="3.5"/>
<path d="M206.7,818.8 L206.7,828.8 M200.8,818.8 L212.6,818.8 M200.8,828.8 L212.6,828.8" fill="none" stroke="#ff0000" stroke-width="3.5"/>
<path d="M206.7,811.8 L217.1,829.8 L196.3,829.8Z" fill="#fff" stroke="#ff0000" stroke-width="4.0" stroke-linejoin="round"/>
<path d="M200.8,818.8 L212.6,818.8 M200.8,828.8 L212.6,828.8" fill="none" stroke="#ff0000" stroke-width="3.5"/>
<path d="M244.2,745.5 L244.2,781.8 M238.3,745.5 L250.1,745.5 M238.3,781.8 L250.1,781.8" fill="none" stroke="#ff0000" stroke-width="3.5"/>
<path d="M244.2,751.6 L254.6,769.6 L233.8,769.6Z" fill="#fff" stroke="#ff0000" stroke-width="4.0" stroke-linejoin="round"/>
<path d="M356.8,642.8 L356.8,676.4 M350.9,642.8 L362.7,642.8 M350.9,676.4 L362.7,676.4" fill="none" stroke="#ff0000" stroke-width="3.5"/>
<path d="M356.8,647.6 L367.2,665.6 L346.4,665.6Z" fill="#fff" stroke="#ff0000" stroke-width="4.0" stroke-linejoin="round"/>
<path d="M582.1,905.2 L582.1,920.3 M576.2,905.2 L588.0,905.2 M576.2,920.3 L588.0,920.3" fill="none" stroke="#ff0000" stroke-width="3.5"/>
<path d="M582.1,900.7 L592.5,918.7 L571.7,918.7Z" fill="#fff" stroke="#ff0000" stroke-width="4.0" stroke-linejoin="round"/>
<path d="M576.2,905.2 L588.0,905.2 M576.2,920.3 L588.0,920.3" fill="none" stroke="#ff0000" stroke-width="3.5"/>
<path d="M136.3,972.2 L136.3,982.3 M130.4,972.2 L142.2,972.2 M130.4,982.3 L142.2,982.3" fill="none" stroke="#000" stroke-width="3.5"/>
<circle cx="136.3" cy="977.3" r="8.15" fill="#fff" stroke="#000" stroke-width="4.1"/>
<path d="M130.4,972.2 L142.2,972.2 M130.4,982.3 L142.2,982.3" fill="none" stroke="#000" stroke-width="3.5"/>
<path d="M141.0,964.2 L141.0,970.9 M135.1,964.2 L146.9,964.2 M135.1,970.9 L146.9,970.9" fill="none" stroke="#000" stroke-width="3.5"/>
<circle cx="141.0" cy="967.5" r="8.15" fill="#fff" stroke="#000" stroke-width="4.1"/>
<path d="M135.1,964.2 L146.9,964.2 M135.1,970.9 L146.9,970.9" fill="none" stroke="#000" stroke-width="3.5"/>
<path d="M150.4,959.8 L150.4,964.8 M144.5,959.8 L156.3,959.8 M144.5,964.8 L156.3,964.8" fill="none" stroke="#000" stroke-width="3.5"/>
<circle cx="150.4" cy="962.3" r="8.15" fill="#fff" stroke="#000" stroke-width="4.1"/>
<path d="M144.5,959.8 L156.3,959.8 M144.5,964.8 L156.3,964.8" fill="none" stroke="#000" stroke-width="3.5"/>
<path d="M169.1,943.7 L169.1,950.4 M163.2,943.7 L175.0,943.7 M163.2,950.4 L175.0,950.4" fill="none" stroke="#000" stroke-width="3.5"/>
<circle cx="169.1" cy="947.0" r="8.15" fill="#fff" stroke="#000" stroke-width="4.1"/>
<path d="M163.2,943.7 L175.0,943.7 M163.2,950.4 L175.0,950.4" fill="none" stroke="#000" stroke-width="3.5"/>
<path d="M206.7,922.0 L206.7,932.1 M200.8,922.0 L212.6,922.0 M200.8,932.1 L212.6,932.1" fill="none" stroke="#000" stroke-width="3.5"/>
<circle cx="206.7" cy="927.0" r="8.15" fill="#fff" stroke="#000" stroke-width="4.1"/>
<path d="M200.8,922.0 L212.6,922.0 M200.8,932.1 L212.6,932.1" fill="none" stroke="#000" stroke-width="3.5"/>
<path d="M244.2,903.5 L244.2,918.6 M238.3,903.5 L250.1,903.5 M238.3,918.6 L250.1,918.6" fill="none" stroke="#000" stroke-width="3.5"/>
<circle cx="244.2" cy="911.0" r="8.15" fill="#fff" stroke="#000" stroke-width="4.1"/>
<path d="M238.3,903.5 L250.1,903.5 M238.3,918.6 L250.1,918.6" fill="none" stroke="#000" stroke-width="3.5"/>
<path d="M356.8,869.4 L356.8,897.9 M350.9,869.4 L362.7,869.4 M350.9,897.9 L362.7,897.9" fill="none" stroke="#000" stroke-width="3.5"/>
<circle cx="356.8" cy="883.6" r="8.15" fill="#fff" stroke="#000" stroke-width="4.1"/>
<path d="M582.1,952.1 L582.1,965.5 M576.2,952.1 L588.0,952.1 M576.2,965.5 L588.0,965.5" fill="none" stroke="#000" stroke-width="3.5"/>
<circle cx="582.1" cy="958.8" r="8.15" fill="#fff" stroke="#000" stroke-width="4.1"/>
<path d="M576.2,952.1 L588.0,952.1 M576.2,965.5 L588.0,965.5" fill="none" stroke="#000" stroke-width="3.5"/>
<path d="M165.3,602.8 L174.7,619.0 L155.9,619.0Z" fill="#fff" stroke="#ff0000" stroke-width="4.4" stroke-linejoin="round"/>
<circle cx="165.1" cy="644.0" r="9.6" fill="#fff" stroke="#000" stroke-width="5.0"/>
<text x="193.0" y="623.6" font-size="28" font-weight="bold" fill="#000" textLength="156.2" lengthAdjust="spacingAndGlyphs">+ TCO-RGD</text>
<text x="191.9" y="657.4" font-size="28" font-weight="bold" fill="#000" textLength="157.3" lengthAdjust="spacingAndGlyphs">– TCO-RGD</text>
<text x="685.5" y="604.4" font-size="38" font-weight="bold" fill="#000" textLength="24.8" lengthAdjust="spacingAndGlyphs">d</text>
<path d="M794.5,597.0 L794.5,1018.9 M784.0,1018.9 L1317.0,1018.9" fill="none" stroke="#000" stroke-width="3.0"/>
<path d="M784.0,942.5 L794.5,942.5 M784.0,866.0 L794.5,866.0 M784.0,789.6 L794.5,789.6 M784.0,713.1 L794.5,713.1 M784.0,636.7 L794.5,636.7 M790.6,980.7 L794.5,980.7 M790.6,904.2 L794.5,904.2 M790.6,827.8 L794.5,827.8 M790.6,751.4 L794.5,751.4 M790.6,674.9 L794.5,674.9 M790.6,598.5 L794.5,598.5 M812.5,1018.9 L812.5,1027.7 M904.0,1018.9 L904.0,1027.7 M995.6,1018.9 L995.6,1027.7 M1087.2,1018.9 L1087.2,1027.7 M1178.7,1018.9 L1178.7,1027.7 M1270.2,1018.9 L1270.2,1027.7 M858.3,1018.9 L858.3,1023.9 M949.8,1018.9 L949.8,1023.9 M1041.4,1018.9 L1041.4,1023.9 M1132.9,1018.9 L1132.9,1023.9 M1224.5,1018.9 L1224.5,1023.9 M1316.0,1018.9 L1316.0,1023.9 " fill="none" stroke="#000" stroke-width="3.0"/>
<text x="773.3" y="1031.9" font-size="28" font-weight="bold" fill="#000" text-anchor="end">1</text>
<text x="773.3" y="955.5" font-size="28" font-weight="bold" fill="#000" text-anchor="end">2</text>
<text x="773.3" y="879.0" font-size="28" font-weight="bold" fill="#000" text-anchor="end">3</text>
<text x="773.3" y="802.6" font-size="28" font-weight="bold" fill="#000" text-anchor="end">4</text>
<text x="773.3" y="726.1" font-size="28" font-weight="bold" fill="#000" text-anchor="end">5</text>
<text x="773.3" y="649.7" font-size="28" font-weight="bold" fill="#000" text-anchor="end">6</text>
<text x="814.9" y="1056.4" font-size="28" font-weight="bold" fill="#000" text-anchor="middle">0</text>
<text x="906.4" y="1056.4" font-size="28" font-weight="bold" fill="#000" text-anchor="middle">10</text>
<text x="998.0" y="1056.4" font-size="28" font-weight="bold" fill="#000" text-anchor="middle">20</text>
<text x="1089.6" y="1056.4" font-size="28" font-weight="bold" fill="#000" text-anchor="middle">30</text>
<text x="1181.1" y="1056.4" font-size="28" font-weight="bold" fill="#000" text-anchor="middle">40</text>
<text x="1272.7" y="1056.4" font-size="28" font-weight="bold" fill="#000" text-anchor="middle">50</text>
<text x="1010.0" y="1091.3" font-size="28" font-weight="bold" fill="#000" textLength="109.6" lengthAdjust="spacingAndGlyphs">Time (h)</text>
<text x="702.3" y="956.0" font-size="28" font-weight="bold" fill="#000" textLength="294.0" lengthAdjust="spacingAndGlyphs" transform="rotate(-90 702.3 956.0)">Tumor-to-Background</text>
<text x="735.2" y="894.7" font-size="28" font-weight="bold" fill="#000" textLength="170.6" lengthAdjust="spacingAndGlyphs" transform="rotate(-90 735.2 894.7)">Ratios <tspan font-weight="normal">(TBR)</tspan></text>
<path d="M817.1,881.3 C817.8,880.5 819.4,881.1 821.7,876.7 C823.9,872.4 826.2,867.4 830.8,855.3 C835.4,843.2 840.0,821.8 849.1,804.1 C858.3,786.4 873.5,766.4 885.7,749.1 C897.9,731.7 910.2,714.0 922.4,700.1 C934.6,686.3 946.8,675.0 959.0,665.7 C971.2,656.4 983.4,649.8 995.6,644.3 C1007.8,638.9 1022.0,635.3 1032.2,632.9 C1042.4,630.5 1048.3,630.2 1056.9,630.0 C1065.5,629.8 1073.7,630.1 1083.7,631.8 C1093.7,633.5 1105.9,636.9 1117.1,640.2 C1128.2,643.6 1139.4,647.4 1150.6,651.9 C1161.8,656.4 1172.9,661.7 1184.1,667.0 C1195.2,672.3 1206.2,677.9 1217.5,683.7 C1228.8,689.6 1246.2,699.0 1251.9,702.1" fill="none" stroke="#ff0000" stroke-width="2.8"/>
<path d="M817.1,991.1 C817.8,988.3 819.4,978.3 821.7,974.2 C823.9,970.1 827.8,970.4 830.8,966.6 C833.9,962.9 836.9,957.2 840.0,951.6 C843.0,946.1 845.3,939.0 849.1,933.3 C852.9,927.6 856.7,921.8 862.9,917.2 C869.0,912.6 875.8,911.6 885.7,905.8 C895.7,899.9 910.2,889.7 922.4,882.1 C934.6,874.4 946.8,866.3 959.0,859.9 C971.2,853.5 983.4,847.9 995.6,843.9 C1007.8,839.8 1023.2,837.1 1032.2,835.4 C1041.3,833.8 1041.4,833.4 1050.0,834.0 C1058.6,834.6 1072.5,836.5 1083.7,839.3 C1094.9,842.1 1105.9,846.5 1117.1,851.0 C1128.2,855.5 1139.4,860.6 1150.6,866.1 C1161.8,871.6 1172.9,877.4 1184.1,883.8 C1195.2,890.2 1206.2,897.0 1217.5,904.6 C1228.8,912.2 1246.2,925.1 1251.9,929.2" fill="none" stroke="#000" stroke-width="2.8"/>
<path d="M817.1,875.2 L817.1,887.4 M811.2,875.2 L823.0,875.2 M811.2,887.4 L823.0,887.4" fill="none" stroke="#ff0000" stroke-width="3.5"/>
<path d="M817.1,869.3 L827.5,887.3 L806.7,887.3Z" fill="#fff" stroke="#ff0000" stroke-width="4.0" stroke-linejoin="round"/>
<path d="M811.2,875.2 L823.0,875.2 M811.2,887.4 L823.0,887.4" fill="none" stroke="#ff0000" stroke-width="3.5"/>
<path d="M821.7,868.3 L821.7,897.4 M815.8,868.3 L827.6,868.3 M815.8,897.4 L827.6,897.4" fill="none" stroke="#ff0000" stroke-width="3.5"/>
<path d="M821.7,870.8 L832.1,888.8 L811.3,888.8Z" fill="#fff" stroke="#ff0000" stroke-width="4.0" stroke-linejoin="round"/>
<path d="M830.8,851.5 L830.8,859.1 M824.9,851.5 L836.7,851.5 M824.9,859.1 L836.7,859.1" fill="none" stroke="#ff0000" stroke-width="3.5"/>
<path d="M830.8,843.3 L841.2,861.3 L820.4,861.3Z" fill="#fff" stroke="#ff0000" stroke-width="4.0" stroke-linejoin="round"/>
<path d="M824.9,851.5 L836.7,851.5 M824.9,859.1 L836.7,859.1" fill="none" stroke="#ff0000" stroke-width="3.5"/>
<path d="M849.1,794.2 L849.1,814.0 M843.2,794.2 L855.0,794.2 M843.2,814.0 L855.0,814.0" fill="none" stroke="#ff0000" stroke-width="3.5"/>
<path d="M849.1,792.1 L859.5,810.1 L838.7,810.1Z" fill="#fff" stroke="#ff0000" stroke-width="4.0" stroke-linejoin="round"/>
<path d="M843.2,794.2 L855.0,794.2 M843.2,814.0 L855.0,814.0" fill="none" stroke="#ff0000" stroke-width="3.5"/>
<path d="M885.7,741.4 L885.7,756.7 M879.8,741.4 L891.6,741.4 M879.8,756.7 L891.6,756.7" fill="none" stroke="#ff0000" stroke-width="3.5"/>
<path d="M885.7,737.1 L896.1,755.1 L875.3,755.1Z" fill="#fff" stroke="#ff0000" stroke-width="4.0" stroke-linejoin="round"/>
<path d="M879.8,741.4 L891.6,741.4 M879.8,756.7 L891.6,756.7" fill="none" stroke="#ff0000" stroke-width="3.5"/>
<path d="M922.4,692.5 L922.4,707.8 M916.5,692.5 L928.3,692.5 M916.5,707.8 L928.3,707.8" fill="none" stroke="#ff0000" stroke-width="3.5"/>
<path d="M922.4,688.1 L932.8,706.1 L912.0,706.1Z" fill="#fff" stroke="#ff0000" stroke-width="4.0" stroke-linejoin="round"/>
<path d="M916.5,692.5 L928.3,692.5 M916.5,707.8 L928.3,707.8" fill="none" stroke="#ff0000" stroke-width="3.5"/>
<path d="M1032.2,614.5 L1032.2,648.2 M1026.3,614.5 L1038.1,614.5 M1026.3,648.2 L1038.1,648.2" fill="none" stroke="#ff0000" stroke-width="3.5"/>
<path d="M1032.2,619.3 L1042.6,637.3 L1021.8,637.3Z" fill="#fff" stroke="#ff0000" stroke-width="4.0" stroke-linejoin="round"/>
<path d="M1251.9,676.4 L1251.9,726.9 M1246.0,676.4 L1257.8,676.4 M1246.0,726.9 L1257.8,726.9" fill="none" stroke="#ff0000" stroke-width="3.5"/>
<path d="M1251.9,689.7 L1262.3,707.7 L1241.5,707.7Z" fill="#fff" stroke="#ff0000" stroke-width="4.0" stroke-linejoin="round"/>
<path d="M817.1,987.3 L817.1,994.9 M811.2,987.3 L823.0,987.3 M811.2,994.9 L823.0,994.9" fill="none" stroke="#000" stroke-width="3.5"/>
<circle cx="817.1" cy="991.1" r="8.15" fill="#fff" stroke="#000" stroke-width="4.1"/>
<path d="M811.2,987.3 L823.0,987.3 M811.2,994.9 L823.0,994.9" fill="none" stroke="#000" stroke-width="3.5"/>
<path d="M821.7,970.4 L821.7,978.0 M815.8,970.4 L827.6,970.4 M815.8,978.0 L827.6,978.0" fill="none" stroke="#000" stroke-width="3.5"/>
<circle cx="821.7" cy="974.2" r="8.15" fill="#fff" stroke="#000" stroke-width="4.1"/>
<path d="M815.8,970.4 L827.6,970.4 M815.8,978.0 L827.6,978.0" fill="none" stroke="#000" stroke-width="3.5"/>
<path d="M830.8,964.3 L830.8,968.9 M824.9,964.3 L836.7,964.3 M824.9,968.9 L836.7,968.9" fill="none" stroke="#000" stroke-width="3.5"/>
<circle cx="830.8" cy="966.6" r="8.15" fill="#fff" stroke="#000" stroke-width="4.1"/>
<path d="M824.9,964.3 L836.7,964.3 M824.9,968.9 L836.7,968.9" fill="none" stroke="#000" stroke-width="3.5"/>
<path d="M849.1,931.8 L849.1,934.8 M843.2,931.8 L855.0,931.8 M843.2,934.8 L855.0,934.8" fill="none" stroke="#000" stroke-width="3.5"/>
<circle cx="849.1" cy="933.3" r="8.15" fill="#fff" stroke="#000" stroke-width="4.1"/>
<path d="M843.2,931.8 L855.0,931.8 M843.2,934.8 L855.0,934.8" fill="none" stroke="#000" stroke-width="3.5"/>
<path d="M885.7,893.9 L885.7,917.6 M879.8,893.9 L891.6,893.9 M879.8,917.6 L891.6,917.6" fill="none" stroke="#000" stroke-width="3.5"/>
<circle cx="885.7" cy="905.8" r="8.15" fill="#fff" stroke="#000" stroke-width="4.1"/>
<path d="M922.4,869.4 L922.4,894.8 M916.5,869.4 L928.3,869.4 M916.5,894.8 L928.3,894.8" fill="none" stroke="#000" stroke-width="3.5"/>
<circle cx="922.4" cy="882.1" r="8.15" fill="#fff" stroke="#000" stroke-width="4.1"/>
<path d="M1032.2,820.5 L1032.2,850.4 M1026.3,820.5 L1038.1,820.5 M1026.3,850.4 L1038.1,850.4" fill="none" stroke="#000" stroke-width="3.5"/>
<circle cx="1032.2" cy="835.4" r="8.15" fill="#fff" stroke="#000" stroke-width="4.1"/>
<path d="M1251.9,914.4 L1251.9,945.0 M1246.0,914.4 L1257.8,914.4 M1246.0,945.0 L1257.8,945.0" fill="none" stroke="#000" stroke-width="3.5"/>
<circle cx="1251.9" cy="929.7" r="8.15" fill="#fff" stroke="#000" stroke-width="4.1"/>
<path d="M816.4,598.1 L825.8,614.3 L807.0,614.3Z" fill="#fff" stroke="#ff0000" stroke-width="4.4" stroke-linejoin="round"/>
<circle cx="818.2" cy="636.6" r="9.6" fill="#fff" stroke="#000" stroke-width="5.0"/>
<text x="839.6" y="616.7" font-size="28" font-weight="bold" fill="#000" textLength="155.2" lengthAdjust="spacingAndGlyphs">+ TCO-RGD</text>
<text x="838.5" y="650.6" font-size="28" font-weight="bold" fill="#000" textLength="156.0" lengthAdjust="spacingAndGlyphs">– TCO-RGD</text>
<text x="1362.3" y="604.4" font-size="38" font-weight="bold" fill="#000" textLength="23.7" lengthAdjust="spacingAndGlyphs">e</text>
<path d="M1460.6,600.4 L1460.6,1017.0 M1446,1017.0 L1985,1017.0" fill="none" stroke="#000" stroke-width="3.4"/>
<path d="M1445.4,836.6 L1460.6,836.6 M1445.4,656.2 L1460.6,656.2 M1452.2,926.8 L1460.6,926.8 M1452.2,746.4 L1460.6,746.4 M1497.4,1017.0 L1497.4,1027.5 M1572.0,1017.0 L1572.0,1027.5 M1646.7,1017.0 L1646.7,1027.5 M1721.3,1017.0 L1721.3,1027.5 M1795.9,1017.0 L1795.9,1027.5 M1870.6,1017.0 L1870.6,1027.5 M1945.2,1017.0 L1945.2,1027.5 " fill="none" stroke="#000" stroke-width="3.0"/>
<text x="1452.2" y="1027.4" font-size="28" font-weight="bold" fill="#000" text-anchor="end">0</text>
<text x="1440.9" y="848.7" font-size="28" font-weight="bold" fill="#000" text-anchor="end">1</text>
<text x="1440.9" y="667.5" font-size="28" font-weight="bold" fill="#000" text-anchor="end">2</text>
<text x="1375.3" y="982.8" font-size="28" font-weight="bold" fill="#000" textLength="301.0" lengthAdjust="spacingAndGlyphs" transform="rotate(-90 1375.3 982.8)">Average Fluorescence</text>
<text x="1409.4" y="929.8" font-size="28" font-weight="bold" fill="#000" textLength="203.7" lengthAdjust="spacingAndGlyphs" transform="rotate(-90 1409.4 929.8)">Intensity <tspan font-weight="normal">(×10<tspan font-size="17" dy="-9">9</tspan><tspan dy="9">)</tspan></tspan></text>
<rect x="1473.4" y="1006.2" width="25.2" height="10.8" fill="#ff0000"/>
<path d="M1500.1,1017.0 L1500.1,1007.7 L1521.6,1007.7 L1521.6,1017.0" fill="#fff" stroke="#000" stroke-width="3"/>
<text x="1513.6" y="1052.2" font-size="28" font-weight="bold" fill="#000" text-anchor="end" transform="rotate(-30 1513.6 1052.2)">Heart</text>
<rect x="1548.0" y="934.4" width="25.2" height="82.6" fill="#ff0000"/>
<path d="M1574.7,1017.0 L1574.7,897.3 L1596.2,897.3 L1596.2,1017.0" fill="#fff" stroke="#000" stroke-width="3"/>
<text x="1588.2" y="1052.2" font-size="28" font-weight="bold" fill="#000" text-anchor="end" transform="rotate(-30 1588.2 1052.2)">Liver</text>
<rect x="1622.7" y="989.9" width="25.2" height="27.1" fill="#ff0000"/>
<path d="M1649.4,1017.0 L1649.4,1001.4 L1670.9,1001.4 L1670.9,1017.0" fill="#fff" stroke="#000" stroke-width="3"/>
<text x="1662.9" y="1052.2" font-size="28" font-weight="bold" fill="#000" text-anchor="end" transform="rotate(-30 1662.9 1052.2)">Spleen</text>
<rect x="1697.3" y="975.5" width="25.2" height="41.5" fill="#ff0000"/>
<path d="M1724.0,1017.0 L1724.0,991.4 L1745.5,991.4 L1745.5,1017.0" fill="#fff" stroke="#000" stroke-width="3"/>
<text x="1737.5" y="1052.2" font-size="28" font-weight="bold" fill="#000" text-anchor="end" transform="rotate(-30 1737.5 1052.2)">Lung</text>
<rect x="1771.9" y="978.8" width="25.2" height="38.2" fill="#ff0000"/>
<path d="M1798.6,1017.0 L1798.6,978.8 L1820.1,978.8 L1820.1,1017.0" fill="#fff" stroke="#000" stroke-width="3"/>
<text x="1812.1" y="1052.2" font-size="28" font-weight="bold" fill="#000" text-anchor="end" transform="rotate(-30 1812.1 1052.2)">Kidney</text>
<rect x="1846.6" y="997.2" width="25.2" height="19.8" fill="#ff0000"/>
<path d="M1873.3,1017.0 L1873.3,1002.3 L1894.8,1002.3 L1894.8,1017.0" fill="#fff" stroke="#000" stroke-width="3"/>
<text x="1886.8" y="1052.2" font-size="28" font-weight="bold" fill="#000" text-anchor="end" transform="rotate(-30 1886.8 1052.2)">Stomach</text>
<rect x="1921.2" y="666.5" width="25.2" height="350.5" fill="#ff0000"/>
<path d="M1947.9,1017.0 L1947.9,878.9 L1969.4,878.9 L1969.4,1017.0" fill="#fff" stroke="#000" stroke-width="3"/>
<text x="1961.4" y="1052.2" font-size="28" font-weight="bold" fill="#000" text-anchor="end" transform="rotate(-30 1961.4 1052.2)">Tumor</text>
<path d="M1584.6,872.9 L1584.6,917.9 M1579.1,872.9 L1590.1,872.9 M1579.1,917.9 L1590.1,917.9" fill="none" stroke="#000" stroke-width="2.6"/>
<path d="M1560.0,926.0 L1560.0,943.0 M1554.5,926.0 L1565.5,926.0 M1554.5,943.0 L1565.5,943.0" fill="none" stroke="#000" stroke-width="2.6"/>
<path d="M1709.3,959.2 L1709.3,975.0 M1704.3,959.2 L1714.3,959.2 M1704.3,975.0 L1714.3,975.0" fill="none" stroke="#000" stroke-width="2.6"/>
<path d="M1808.5,958.8 L1808.5,993.5 M1803.0,958.8 L1814.0,958.8 M1803.0,993.5 L1814.0,993.5" fill="none" stroke="#000" stroke-width="2.6"/>
<path d="M1933.2,650.0 L1933.2,681.0 M1927.7,650.0 L1938.7,650.0 M1927.7,681.0 L1938.7,681.0" fill="none" stroke="#000" stroke-width="2.6"/>
<path d="M1634.3,983.0 L1634.3,993.0 M1630.3,983.0 L1638.3,983.0 M1630.3,993.0 L1638.3,993.0" fill="none" stroke="#000" stroke-width="2.6"/>
<path d="M1784.0,974.0 L1784.0,984.0 M1780.0,974.0 L1788.0,974.0 M1780.0,984.0 L1788.0,984.0" fill="none" stroke="#000" stroke-width="2.6"/>
<path d="M1858.3,992.0 L1858.3,1001.0 M1854.3,992.0 L1862.3,992.0 M1854.3,1001.0 L1862.3,1001.0" fill="none" stroke="#000" stroke-width="2.6"/>
<circle cx="1478.4" cy="1007.2" r="5.1" fill="none" stroke="#000" stroke-width="3.3"/>
<circle cx="1485.6" cy="1005" r="5.1" fill="none" stroke="#000" stroke-width="3.3"/>
<circle cx="1492.8" cy="1005.5" r="5.1" fill="none" stroke="#000" stroke-width="3.3"/>
<circle cx="1503.6" cy="1009.6" r="5.1" fill="none" stroke="#000" stroke-width="3.3"/>
<circle cx="1510.8" cy="1004.3" r="5.1" fill="none" stroke="#000" stroke-width="3.3"/>
<circle cx="1517.2" cy="1005.5" r="5.1" fill="none" stroke="#000" stroke-width="3.3"/>
<circle cx="1559.9" cy="923.9" r="5.1" fill="none" stroke="#000" stroke-width="3.3"/>
<circle cx="1567.1" cy="935.9" r="5.1" fill="none" stroke="#000" stroke-width="3.3"/>
<circle cx="1553.4" cy="944.8" r="5.1" fill="none" stroke="#000" stroke-width="3.3"/>
<circle cx="1584.6" cy="872.9" r="5.1" fill="none" stroke="#000" stroke-width="3.3"/>
<circle cx="1584.6" cy="895.2" r="5.1" fill="none" stroke="#000" stroke-width="3.3"/>
<circle cx="1584.6" cy="917.9" r="5.1" fill="none" stroke="#000" stroke-width="3.3"/>
<circle cx="1634.3" cy="982" r="5.1" fill="none" stroke="#000" stroke-width="3.3"/>
<circle cx="1641.5" cy="991.1" r="5.1" fill="none" stroke="#000" stroke-width="3.3"/>
<circle cx="1627.6" cy="993" r="5.1" fill="none" stroke="#000" stroke-width="3.3"/>
<circle cx="1652.3" cy="1000.2" r="5.1" fill="none" stroke="#000" stroke-width="3.3"/>
<circle cx="1659.5" cy="997.8" r="5.1" fill="none" stroke="#000" stroke-width="3.3"/>
<circle cx="1666.7" cy="998.8" r="5.1" fill="none" stroke="#000" stroke-width="3.3"/>
<circle cx="1709.3" cy="959.2" r="5.1" fill="none" stroke="#000" stroke-width="3.3"/>
<circle cx="1702.6" cy="974.3" r="5.1" fill="none" stroke="#000" stroke-width="3.3"/>
<circle cx="1716.3" cy="974.3" r="5.1" fill="none" stroke="#000" stroke-width="3.3"/>
<circle cx="1727.3" cy="992.3" r="5.1" fill="none" stroke="#000" stroke-width="3.3"/>
<circle cx="1734.5" cy="986.3" r="5.1" fill="none" stroke="#000" stroke-width="3.3"/>
<circle cx="1741.7" cy="989.2" r="5.1" fill="none" stroke="#000" stroke-width="3.3"/>
<circle cx="1776.8" cy="983.5" r="5.1" fill="none" stroke="#000" stroke-width="3.3"/>
<circle cx="1784" cy="974.3" r="5.1" fill="none" stroke="#000" stroke-width="3.3"/>
<circle cx="1790.7" cy="977.9" r="5.1" fill="none" stroke="#000" stroke-width="3.3"/>
<circle cx="1802.7" cy="961.1" r="5.1" fill="none" stroke="#000" stroke-width="3.3"/>
<circle cx="1816.8" cy="970.7" r="5.1" fill="none" stroke="#000" stroke-width="3.3"/>
<circle cx="1808.4" cy="993.5" r="5.1" fill="none" stroke="#000" stroke-width="3.3"/>
<circle cx="1851.6" cy="1001.2" r="5.1" fill="none" stroke="#000" stroke-width="3.3"/>
<circle cx="1858.3" cy="991.6" r="5.1" fill="none" stroke="#000" stroke-width="3.3"/>
<circle cx="1865.5" cy="997.1" r="5.1" fill="none" stroke="#000" stroke-width="3.3"/>
<circle cx="1876.8" cy="1005" r="5.1" fill="none" stroke="#000" stroke-width="3.3"/>
<circle cx="1883.5" cy="998.3" r="5.1" fill="none" stroke="#000" stroke-width="3.3"/>
<circle cx="1890.7" cy="999.5" r="5.1" fill="none" stroke="#000" stroke-width="3.3"/>
<circle cx="1950.7" cy="877.2" r="5.1" fill="none" stroke="#000" stroke-width="3.3"/>
<circle cx="1957.9" cy="869.3" r="5.1" fill="none" stroke="#000" stroke-width="3.3"/>
<circle cx="1965.1" cy="875.3" r="5.1" fill="none" stroke="#000" stroke-width="3.3"/>
<circle cx="1933.2" cy="648.4" r="5.1" fill="none" stroke="#000" stroke-width="3.3"/>
<circle cx="1933.2" cy="665.9" r="5.1" fill="none" stroke="#000" stroke-width="3.3"/>
<circle cx="1933.2" cy="680.4" r="5.1" fill="none" stroke="#000" stroke-width="3.3"/>
<rect x="1515.0" y="650.1" width="49.2" height="13.2" fill="#ff0000" stroke="#000" stroke-width="4.5" stroke-linejoin="round"/>
<rect x="1515.0" y="685.2" width="49.2" height="13.2" fill="#fff" stroke="#000" stroke-width="4.5" stroke-linejoin="round"/>
<text x="1588.6" y="666.0" font-size="28" font-weight="bold" fill="#000" textLength="157.2" lengthAdjust="spacingAndGlyphs">+ TCO-RGD</text>
<text x="1588.0" y="702.2" font-size="28" font-weight="bold" fill="#000" textLength="157.8" lengthAdjust="spacingAndGlyphs">– TCO-RGD</text>
</svg>
</body></html>
